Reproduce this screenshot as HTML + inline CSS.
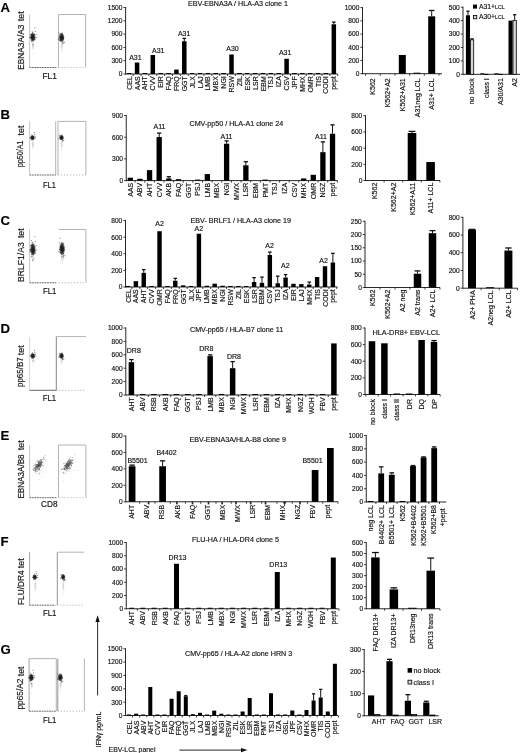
<!DOCTYPE html>
<html><head><meta charset="utf-8"><title>figure</title>
<style>html,body{margin:0;padding:0;background:#fff;}body{width:520px;height:753px;overflow:hidden;}svg{display:block;}</style>
</head><body>
<svg width="520" height="753" viewBox="0 0 520 753" font-family="'Liberation Sans', sans-serif">
<style>text{stroke:#222;stroke-width:0.16px;paint-order:stroke;}</style>
<defs><radialGradient id="g1"><stop offset="0" stop-color="#0a0a0a" stop-opacity="1"/><stop offset="0.5" stop-color="#1a1a1a" stop-opacity="0.85"/><stop offset="0.8" stop-color="#444" stop-opacity="0.4"/><stop offset="1" stop-color="#888" stop-opacity="0"/></radialGradient><radialGradient id="g2"><stop offset="0" stop-color="#333" stop-opacity="0.8"/><stop offset="0.6" stop-color="#777" stop-opacity="0.45"/><stop offset="1" stop-color="#aaa" stop-opacity="0"/></radialGradient></defs>
<rect width="520" height="753" fill="#fff"/>
<text x="0.5" y="11.6" font-size="13.2" text-anchor="start" font-weight="bold" fill="#000">A</text>
<text x="0.5" y="118.7" font-size="13.2" text-anchor="start" font-weight="bold" fill="#000">B</text>
<text x="0.5" y="224.8" font-size="13.2" text-anchor="start" font-weight="bold" fill="#000">C</text>
<text x="0.5" y="332.5" font-size="13.2" text-anchor="start" font-weight="bold" fill="#000">D</text>
<text x="0.5" y="439.5" font-size="13.2" text-anchor="start" font-weight="bold" fill="#000">E</text>
<text x="0.5" y="546" font-size="13.2" text-anchor="start" font-weight="bold" fill="#000">F</text>
<text x="0.5" y="653.5" font-size="13.2" text-anchor="start" font-weight="bold" fill="#000">G</text>
<line x1="29.6" y1="14.5" x2="29.6" y2="67.5" stroke="#bdbdbd" stroke-width="0.9"/>
<line x1="29.6" y1="67.5" x2="56.5" y2="67.5" stroke="#555" stroke-width="0.9" stroke-dasharray="1.8 0.7"/>
<line x1="58.5" y1="14.5" x2="58.5" y2="67.5" stroke="#ababab" stroke-width="0.9"/>
<line x1="58.5" y1="14.5" x2="85.6" y2="14.5" stroke="#ababab" stroke-width="0.9"/>
<line x1="85.6" y1="14.5" x2="85.6" y2="67.5" stroke="#ababab" stroke-width="0.9"/>
<line x1="58.5" y1="67.5" x2="85.6" y2="67.5" stroke="#b0b0b0" stroke-width="0.9" stroke-dasharray="1.2 1.8"/>
<ellipse cx="33.1" cy="45.65" rx="1.59" ry="5.4" fill="url(#g2)" opacity="0.3" transform="rotate(0 33.1 45.65)"/>
<g fill="#aaa" opacity="0.6"><circle cx="32.36" cy="41.97" r="0.4"/><circle cx="33.84" cy="37.84" r="0.4"/><circle cx="33.19" cy="37.98" r="0.4"/><circle cx="34.18" cy="46.83" r="0.4"/><circle cx="34.39" cy="44.28" r="0.4"/><circle cx="33.62" cy="45.07" r="0.4"/><circle cx="32.71" cy="46.62" r="0.4"/><circle cx="32.29" cy="44.82" r="0.4"/><circle cx="33.86" cy="46.31" r="0.4"/><circle cx="32.97" cy="53.98" r="0.4"/><circle cx="33.35" cy="43.99" r="0.4"/><circle cx="33.43" cy="44.22" r="0.4"/></g>
<ellipse cx="32.8" cy="37" rx="3.33" ry="5.06" fill="url(#g1)" opacity="0.95" transform="rotate(0 32.8 37)"/>
<g fill="#1a1a1a" opacity="0.7"><circle cx="32.04" cy="40.43" r="0.5"/><circle cx="36.27" cy="37.42" r="0.5"/><circle cx="34.79" cy="27.76" r="0.5"/><circle cx="32.73" cy="38.83" r="0.5"/><circle cx="33.55" cy="37.61" r="0.5"/><circle cx="34.65" cy="37.64" r="0.5"/><circle cx="31.31" cy="40.79" r="0.5"/><circle cx="32.88" cy="34.45" r="0.5"/><circle cx="33.36" cy="39.21" r="0.5"/><circle cx="34.53" cy="37.75" r="0.5"/><circle cx="33.06" cy="38.46" r="0.5"/><circle cx="33.8" cy="35.09" r="0.5"/><circle cx="36.02" cy="34.43" r="0.5"/><circle cx="32.32" cy="35.21" r="0.5"/><circle cx="33.35" cy="38.66" r="0.5"/><circle cx="32.68" cy="33.71" r="0.5"/><circle cx="32.73" cy="37.49" r="0.5"/><circle cx="32.08" cy="39.22" r="0.5"/><circle cx="33.64" cy="37.88" r="0.5"/><circle cx="32.44" cy="39.75" r="0.5"/><circle cx="31.23" cy="37.14" r="0.5"/><circle cx="33.4" cy="35.13" r="0.5"/><circle cx="33.66" cy="38.32" r="0.5"/><circle cx="33.14" cy="40.53" r="0.5"/><circle cx="31.74" cy="37.36" r="0.5"/><circle cx="34.48" cy="39.58" r="0.5"/><circle cx="31.59" cy="34.29" r="0.5"/><circle cx="32.1" cy="31.81" r="0.5"/><circle cx="33.57" cy="37.39" r="0.5"/><circle cx="30.94" cy="37.76" r="0.5"/><circle cx="31.36" cy="36.91" r="0.5"/><circle cx="32.48" cy="38.93" r="0.5"/><circle cx="35.24" cy="31.4" r="0.5"/><circle cx="31.43" cy="37.01" r="0.5"/><circle cx="33.94" cy="39.7" r="0.5"/><circle cx="33.21" cy="40.76" r="0.5"/><circle cx="32.56" cy="40.05" r="0.5"/><circle cx="33.5" cy="35.21" r="0.5"/><circle cx="31.76" cy="36.47" r="0.5"/><circle cx="30.36" cy="37.5" r="0.5"/><circle cx="29.65" cy="37.34" r="0.5"/><circle cx="31.68" cy="38.66" r="0.5"/><circle cx="31.92" cy="34.43" r="0.5"/><circle cx="32.32" cy="34.98" r="0.5"/><circle cx="34.07" cy="37.25" r="0.5"/><circle cx="33.65" cy="37.82" r="0.5"/><circle cx="31.28" cy="34.56" r="0.5"/><circle cx="34.35" cy="34.77" r="0.5"/><circle cx="31.75" cy="36.14" r="0.5"/><circle cx="31.81" cy="37.33" r="0.5"/><circle cx="34" cy="39.05" r="0.5"/><circle cx="32.09" cy="35.27" r="0.5"/><circle cx="32.7" cy="33.62" r="0.5"/><circle cx="31.93" cy="42.02" r="0.5"/><circle cx="33.75" cy="37.3" r="0.5"/><circle cx="32.01" cy="40.72" r="0.5"/><circle cx="32.74" cy="44.84" r="0.5"/><circle cx="33.85" cy="38.85" r="0.5"/><circle cx="30.82" cy="37.86" r="0.5"/><circle cx="32.78" cy="38.64" r="0.5"/><circle cx="32.72" cy="32.15" r="0.5"/><circle cx="30.46" cy="34.29" r="0.5"/><circle cx="31.75" cy="38.85" r="0.5"/><circle cx="32.17" cy="37.01" r="0.5"/><circle cx="33" cy="36.13" r="0.5"/><circle cx="35.17" cy="39.83" r="0.5"/><circle cx="32.15" cy="37.46" r="0.5"/><circle cx="33.4" cy="35.84" r="0.5"/><circle cx="32.6" cy="37.14" r="0.5"/><circle cx="33.67" cy="39.48" r="0.5"/></g>
<ellipse cx="61.8" cy="46.15" rx="1.59" ry="5.4" fill="url(#g2)" opacity="0.3" transform="rotate(0 61.8 46.15)"/>
<g fill="#aaa" opacity="0.6"><circle cx="62.4" cy="40.16" r="0.4"/><circle cx="61.38" cy="46.86" r="0.4"/><circle cx="63.18" cy="46.62" r="0.4"/><circle cx="60.67" cy="47.73" r="0.4"/><circle cx="61.04" cy="51.02" r="0.4"/><circle cx="61.8" cy="53.01" r="0.4"/><circle cx="61.9" cy="42.91" r="0.4"/><circle cx="60.82" cy="45.3" r="0.4"/><circle cx="62.36" cy="50.88" r="0.4"/><circle cx="62.21" cy="43.94" r="0.4"/><circle cx="62.4" cy="41.43" r="0.4"/><circle cx="62.4" cy="43.9" r="0.4"/></g>
<ellipse cx="61.5" cy="37.5" rx="3.33" ry="5.06" fill="url(#g1)" opacity="0.95" transform="rotate(0 61.5 37.5)"/>
<g fill="#1a1a1a" opacity="0.7"><circle cx="62.97" cy="39.15" r="0.5"/><circle cx="62.62" cy="37.33" r="0.5"/><circle cx="60.37" cy="36.77" r="0.5"/><circle cx="61.38" cy="33.31" r="0.5"/><circle cx="58.79" cy="33.12" r="0.5"/><circle cx="61.17" cy="35.08" r="0.5"/><circle cx="60.24" cy="40.18" r="0.5"/><circle cx="61.19" cy="35.67" r="0.5"/><circle cx="61.98" cy="34.7" r="0.5"/><circle cx="61.57" cy="36.31" r="0.5"/><circle cx="61.4" cy="37.98" r="0.5"/><circle cx="60.69" cy="38.55" r="0.5"/><circle cx="61.01" cy="39.1" r="0.5"/><circle cx="62.53" cy="34.35" r="0.5"/><circle cx="60.66" cy="40.12" r="0.5"/><circle cx="62.66" cy="43.55" r="0.5"/><circle cx="62.81" cy="35.49" r="0.5"/><circle cx="63.22" cy="43.11" r="0.5"/><circle cx="61.59" cy="38.41" r="0.5"/><circle cx="60.47" cy="38.82" r="0.5"/><circle cx="61.9" cy="36.24" r="0.5"/><circle cx="62.72" cy="38.61" r="0.5"/><circle cx="63.24" cy="38.55" r="0.5"/><circle cx="59.03" cy="37.92" r="0.5"/><circle cx="62.32" cy="36.7" r="0.5"/><circle cx="61.83" cy="34.34" r="0.5"/><circle cx="61.97" cy="37.16" r="0.5"/><circle cx="58.21" cy="39.59" r="0.5"/><circle cx="62.47" cy="38.31" r="0.5"/><circle cx="61.08" cy="39.93" r="0.5"/><circle cx="62.29" cy="37.42" r="0.5"/><circle cx="61.93" cy="35.55" r="0.5"/><circle cx="61.98" cy="36.4" r="0.5"/><circle cx="64.37" cy="42.26" r="0.5"/><circle cx="63.24" cy="37.83" r="0.5"/><circle cx="61.96" cy="40.98" r="0.5"/><circle cx="60.8" cy="41.02" r="0.5"/><circle cx="60.61" cy="33.37" r="0.5"/><circle cx="63.15" cy="41.09" r="0.5"/><circle cx="61.62" cy="41.19" r="0.5"/><circle cx="62.27" cy="33.08" r="0.5"/><circle cx="60.1" cy="36.88" r="0.5"/><circle cx="62.92" cy="42.18" r="0.5"/><circle cx="59.77" cy="34.84" r="0.5"/><circle cx="63.35" cy="36.6" r="0.5"/><circle cx="61.07" cy="40.5" r="0.5"/><circle cx="61.96" cy="39.47" r="0.5"/><circle cx="62.63" cy="34.3" r="0.5"/><circle cx="62.24" cy="40.41" r="0.5"/><circle cx="59.62" cy="40.25" r="0.5"/><circle cx="62.06" cy="35.26" r="0.5"/><circle cx="62.18" cy="38.39" r="0.5"/><circle cx="60.43" cy="36.47" r="0.5"/><circle cx="63.46" cy="38.5" r="0.5"/><circle cx="60.69" cy="35.88" r="0.5"/><circle cx="62.62" cy="37.99" r="0.5"/><circle cx="61.12" cy="36.99" r="0.5"/><circle cx="61.78" cy="38" r="0.5"/><circle cx="63.14" cy="38.24" r="0.5"/><circle cx="61.11" cy="33.67" r="0.5"/><circle cx="61.02" cy="39.85" r="0.5"/><circle cx="63.7" cy="37.87" r="0.5"/><circle cx="60.72" cy="37.18" r="0.5"/><circle cx="62.24" cy="38.97" r="0.5"/><circle cx="60.09" cy="40.34" r="0.5"/><circle cx="63.4" cy="39.6" r="0.5"/><circle cx="61.56" cy="39.09" r="0.5"/><circle cx="61.01" cy="36.4" r="0.5"/><circle cx="63.33" cy="37.16" r="0.5"/><circle cx="61.33" cy="34.04" r="0.5"/></g>
<text transform="translate(23.5,69.8) rotate(-90)" font-size="8.2" textLength="45.2" lengthAdjust="spacingAndGlyphs" fill="#111">EBNA3A/A3</text>
<text transform="translate(23.6,21.2) rotate(-90)" font-size="8.2" textLength="9.8" lengthAdjust="spacingAndGlyphs" fill="#111">tet</text>
<text x="42.4" y="78.6" font-size="8.2" textLength="14.4" lengthAdjust="spacingAndGlyphs" fill="#111">FL1</text>
<line x1="29.6" y1="121.4" x2="29.6" y2="175" stroke="#bdbdbd" stroke-width="0.9"/>
<line x1="29.6" y1="175" x2="56" y2="175" stroke="#555" stroke-width="0.9" stroke-dasharray="1.8 0.7"/>
<line x1="55.7" y1="121.4" x2="55.7" y2="175" stroke="#ababab" stroke-width="0.9"/>
<line x1="58" y1="121.4" x2="58" y2="175" stroke="#ababab" stroke-width="0.9"/>
<line x1="58" y1="121.4" x2="85.9" y2="121.4" stroke="#ababab" stroke-width="0.9"/>
<line x1="85.9" y1="121.4" x2="85.9" y2="175" stroke="#ababab" stroke-width="0.9"/>
<line x1="58" y1="175" x2="85.9" y2="175" stroke="#b0b0b0" stroke-width="0.9" stroke-dasharray="1.2 1.8"/>
<ellipse cx="32.8" cy="144.6" rx="1.26" ry="6" fill="url(#g2)" opacity="0.3" transform="rotate(0 32.8 144.6)"/>
<g fill="#aaa" opacity="0.6"><circle cx="32.06" cy="140.51" r="0.4"/><circle cx="33.54" cy="135.92" r="0.4"/><circle cx="32.89" cy="136.08" r="0.4"/><circle cx="33.88" cy="145.91" r="0.4"/><circle cx="34.09" cy="143.08" r="0.4"/><circle cx="33.32" cy="143.96" r="0.4"/><circle cx="32.41" cy="145.68" r="0.4"/><circle cx="31.99" cy="143.68" r="0.4"/><circle cx="33.56" cy="145.33" r="0.4"/><circle cx="32.67" cy="153.86" r="0.4"/><circle cx="33.05" cy="142.75" r="0.4"/><circle cx="33.13" cy="143.01" r="0.4"/></g>
<ellipse cx="32.5" cy="137.6" rx="2.64" ry="2.75" fill="url(#g1)" opacity="0.95" transform="rotate(0 32.5 137.6)"/>
<g fill="#1a1a1a" opacity="0.7"><circle cx="31.9" cy="139.47" r="0.5"/><circle cx="35.25" cy="137.83" r="0.5"/><circle cx="34.07" cy="132.58" r="0.5"/><circle cx="32.45" cy="138.6" r="0.5"/><circle cx="33.1" cy="137.93" r="0.5"/><circle cx="33.96" cy="137.95" r="0.5"/><circle cx="31.32" cy="139.66" r="0.5"/><circle cx="32.56" cy="136.21" r="0.5"/><circle cx="32.95" cy="138.8" r="0.5"/><circle cx="33.87" cy="138.01" r="0.5"/><circle cx="32.7" cy="138.39" r="0.5"/><circle cx="33.29" cy="136.56" r="0.5"/><circle cx="35.05" cy="136.2" r="0.5"/><circle cx="32.12" cy="136.63" r="0.5"/><circle cx="32.94" cy="138.5" r="0.5"/><circle cx="32.4" cy="135.81" r="0.5"/><circle cx="32.45" cy="137.87" r="0.5"/><circle cx="31.93" cy="138.81" r="0.5"/><circle cx="33.16" cy="138.08" r="0.5"/><circle cx="32.22" cy="139.09" r="0.5"/><circle cx="31.25" cy="137.67" r="0.5"/><circle cx="32.97" cy="136.58" r="0.5"/><circle cx="33.18" cy="138.32" r="0.5"/><circle cx="32.77" cy="139.52" r="0.5"/><circle cx="31.66" cy="137.8" r="0.5"/><circle cx="33.83" cy="139" r="0.5"/><circle cx="31.54" cy="136.13" r="0.5"/><circle cx="31.95" cy="134.78" r="0.5"/><circle cx="33.11" cy="137.81" r="0.5"/><circle cx="31.02" cy="138.01" r="0.5"/><circle cx="31.35" cy="137.55" r="0.5"/><circle cx="32.25" cy="138.65" r="0.5"/><circle cx="34.43" cy="134.56" r="0.5"/><circle cx="31.42" cy="137.6" r="0.5"/><circle cx="33.41" cy="139.07" r="0.5"/><circle cx="32.82" cy="139.64" r="0.5"/><circle cx="32.31" cy="139.26" r="0.5"/><circle cx="33.05" cy="136.63" r="0.5"/><circle cx="31.67" cy="137.31" r="0.5"/><circle cx="30.57" cy="137.87" r="0.5"/><circle cx="30.01" cy="137.78" r="0.5"/><circle cx="31.61" cy="138.5" r="0.5"/><circle cx="31.8" cy="136.2" r="0.5"/><circle cx="32.12" cy="136.5" r="0.5"/><circle cx="33.51" cy="137.73" r="0.5"/><circle cx="33.17" cy="138.05" r="0.5"/><circle cx="31.29" cy="136.27" r="0.5"/></g>
<ellipse cx="61.8" cy="144.6" rx="1.26" ry="6" fill="url(#g2)" opacity="0.3" transform="rotate(0 61.8 144.6)"/>
<g fill="#aaa" opacity="0.6"><circle cx="62.4" cy="137.94" r="0.4"/><circle cx="61.38" cy="145.39" r="0.4"/><circle cx="63.18" cy="145.12" r="0.4"/><circle cx="60.67" cy="146.36" r="0.4"/><circle cx="61.04" cy="150.01" r="0.4"/><circle cx="61.8" cy="152.22" r="0.4"/><circle cx="61.9" cy="141" r="0.4"/><circle cx="60.82" cy="143.66" r="0.4"/><circle cx="62.36" cy="149.86" r="0.4"/><circle cx="62.21" cy="142.14" r="0.4"/><circle cx="62.4" cy="139.35" r="0.4"/><circle cx="62.4" cy="142.1" r="0.4"/></g>
<ellipse cx="61.5" cy="137.6" rx="2.64" ry="2.75" fill="url(#g1)" opacity="0.95" transform="rotate(0 61.5 137.6)"/>
<g fill="#1a1a1a" opacity="0.7"><circle cx="62.66" cy="138.5" r="0.5"/><circle cx="62.39" cy="137.51" r="0.5"/><circle cx="60.6" cy="137.2" r="0.5"/><circle cx="61.4" cy="135.32" r="0.5"/><circle cx="59.35" cy="135.22" r="0.5"/><circle cx="61.24" cy="136.29" r="0.5"/><circle cx="60.5" cy="139.06" r="0.5"/><circle cx="61.26" cy="136.61" r="0.5"/><circle cx="61.88" cy="136.08" r="0.5"/><circle cx="61.56" cy="136.95" r="0.5"/><circle cx="61.42" cy="137.86" r="0.5"/><circle cx="60.86" cy="138.17" r="0.5"/><circle cx="61.11" cy="138.47" r="0.5"/><circle cx="62.32" cy="135.89" r="0.5"/><circle cx="60.84" cy="139.02" r="0.5"/><circle cx="62.42" cy="140.89" r="0.5"/><circle cx="62.54" cy="136.51" r="0.5"/><circle cx="62.86" cy="140.65" r="0.5"/><circle cx="61.57" cy="138.09" r="0.5"/><circle cx="60.68" cy="138.32" r="0.5"/><circle cx="61.82" cy="136.92" r="0.5"/><circle cx="62.47" cy="138.2" r="0.5"/><circle cx="62.88" cy="138.17" r="0.5"/><circle cx="59.54" cy="137.83" r="0.5"/><circle cx="62.15" cy="137.17" r="0.5"/><circle cx="61.76" cy="135.88" r="0.5"/><circle cx="61.87" cy="137.41" r="0.5"/><circle cx="58.89" cy="138.74" r="0.5"/><circle cx="62.27" cy="138.04" r="0.5"/><circle cx="61.16" cy="138.92" r="0.5"/><circle cx="62.13" cy="137.55" r="0.5"/><circle cx="61.84" cy="136.54" r="0.5"/><circle cx="61.88" cy="137" r="0.5"/><circle cx="63.78" cy="140.19" r="0.5"/><circle cx="62.88" cy="137.78" r="0.5"/><circle cx="61.86" cy="139.49" r="0.5"/><circle cx="60.94" cy="139.51" r="0.5"/><circle cx="60.8" cy="135.36" r="0.5"/><circle cx="62.81" cy="139.55" r="0.5"/><circle cx="61.59" cy="139.61" r="0.5"/><circle cx="62.11" cy="135.2" r="0.5"/><circle cx="60.39" cy="137.26" r="0.5"/><circle cx="62.63" cy="140.14" r="0.5"/><circle cx="60.13" cy="136.15" r="0.5"/><circle cx="62.97" cy="137.11" r="0.5"/><circle cx="61.16" cy="139.23" r="0.5"/><circle cx="61.86" cy="138.67" r="0.5"/></g>
<text transform="translate(23,167.2) rotate(-90)" font-size="8.2" textLength="26.6" lengthAdjust="spacingAndGlyphs" fill="#111">pp50/A1</text>
<text transform="translate(23.6,135.4) rotate(-90)" font-size="8.2" textLength="9.8" lengthAdjust="spacingAndGlyphs" fill="#111">tet</text>
<text x="43" y="187.5" font-size="8.2" textLength="12.8" lengthAdjust="spacingAndGlyphs" fill="#111">FL1</text>
<line x1="29.6" y1="229.5" x2="29.6" y2="282.8" stroke="#bdbdbd" stroke-width="0.9"/>
<line x1="29.6" y1="282.8" x2="56.8" y2="282.8" stroke="#555" stroke-width="0.9" stroke-dasharray="1.8 0.7"/>
<line x1="58.8" y1="229.5" x2="85.9" y2="229.5" stroke="#ababab" stroke-width="0.9"/>
<line x1="85.9" y1="229.5" x2="85.9" y2="282.8" stroke="#ababab" stroke-width="0.9"/>
<line x1="58.8" y1="282.8" x2="85.9" y2="282.8" stroke="#b0b0b0" stroke-width="0.9" stroke-dasharray="1.2 1.8"/>
<ellipse cx="33.2" cy="258.95" rx="1.59" ry="4.2" fill="url(#g2)" opacity="0.3" transform="rotate(0 33.2 258.95)"/>
<g fill="#aaa" opacity="0.6"><circle cx="32.46" cy="256.09" r="0.4"/><circle cx="33.94" cy="252.88" r="0.4"/><circle cx="33.29" cy="252.98" r="0.4"/><circle cx="34.28" cy="259.87" r="0.4"/><circle cx="34.49" cy="257.89" r="0.4"/><circle cx="33.72" cy="258.5" r="0.4"/><circle cx="32.81" cy="259.71" r="0.4"/><circle cx="32.39" cy="258.31" r="0.4"/><circle cx="33.96" cy="259.46" r="0.4"/><circle cx="33.07" cy="265.43" r="0.4"/><circle cx="33.45" cy="257.66" r="0.4"/><circle cx="33.53" cy="257.84" r="0.4"/></g>
<ellipse cx="32.9" cy="249.4" rx="3.33" ry="7.04" fill="url(#g1)" opacity="0.95" transform="rotate(0 32.9 249.4)"/>
<g fill="#1a1a1a" opacity="0.7"><circle cx="32.14" cy="254.18" r="0.5"/><circle cx="36.37" cy="249.98" r="0.5"/><circle cx="34.89" cy="236.55" r="0.5"/><circle cx="32.83" cy="251.95" r="0.5"/><circle cx="33.65" cy="250.25" r="0.5"/><circle cx="34.75" cy="250.29" r="0.5"/><circle cx="31.41" cy="254.68" r="0.5"/><circle cx="32.98" cy="245.85" r="0.5"/><circle cx="33.46" cy="252.48" r="0.5"/><circle cx="34.63" cy="250.45" r="0.5"/><circle cx="33.16" cy="251.43" r="0.5"/><circle cx="33.9" cy="246.74" r="0.5"/><circle cx="36.12" cy="245.82" r="0.5"/><circle cx="32.42" cy="246.9" r="0.5"/><circle cx="33.45" cy="251.71" r="0.5"/><circle cx="32.78" cy="244.82" r="0.5"/><circle cx="32.83" cy="250.09" r="0.5"/><circle cx="32.18" cy="252.49" r="0.5"/><circle cx="33.74" cy="250.63" r="0.5"/><circle cx="32.54" cy="253.22" r="0.5"/><circle cx="31.33" cy="249.59" r="0.5"/><circle cx="33.5" cy="246.8" r="0.5"/><circle cx="33.76" cy="251.23" r="0.5"/><circle cx="33.24" cy="254.31" r="0.5"/><circle cx="31.84" cy="249.9" r="0.5"/><circle cx="34.58" cy="252.99" r="0.5"/><circle cx="31.69" cy="245.63" r="0.5"/><circle cx="32.2" cy="242.18" r="0.5"/><circle cx="33.67" cy="249.94" r="0.5"/><circle cx="31.04" cy="250.46" r="0.5"/><circle cx="31.46" cy="249.28" r="0.5"/><circle cx="32.58" cy="252.09" r="0.5"/><circle cx="35.34" cy="241.61" r="0.5"/><circle cx="31.53" cy="249.41" r="0.5"/><circle cx="34.04" cy="253.16" r="0.5"/><circle cx="33.31" cy="254.63" r="0.5"/><circle cx="32.66" cy="253.64" r="0.5"/><circle cx="33.6" cy="246.91" r="0.5"/><circle cx="31.86" cy="248.67" r="0.5"/><circle cx="30.46" cy="250.1" r="0.5"/><circle cx="29.75" cy="249.87" r="0.5"/><circle cx="31.78" cy="251.71" r="0.5"/><circle cx="32.02" cy="245.82" r="0.5"/><circle cx="32.42" cy="246.59" r="0.5"/><circle cx="34.17" cy="249.74" r="0.5"/><circle cx="33.75" cy="250.54" r="0.5"/><circle cx="31.38" cy="246.01" r="0.5"/><circle cx="34.45" cy="246.3" r="0.5"/><circle cx="31.85" cy="248.2" r="0.5"/><circle cx="31.91" cy="249.86" r="0.5"/><circle cx="34.1" cy="252.25" r="0.5"/><circle cx="32.19" cy="246.99" r="0.5"/><circle cx="32.8" cy="244.69" r="0.5"/><circle cx="32.03" cy="256.38" r="0.5"/><circle cx="33.85" cy="249.82" r="0.5"/><circle cx="32.11" cy="254.58" r="0.5"/><circle cx="32.84" cy="260.31" r="0.5"/><circle cx="33.95" cy="251.98" r="0.5"/><circle cx="30.92" cy="250.6" r="0.5"/><circle cx="32.88" cy="251.68" r="0.5"/><circle cx="32.82" cy="242.65" r="0.5"/><circle cx="30.56" cy="245.62" r="0.5"/><circle cx="31.85" cy="251.97" r="0.5"/><circle cx="32.27" cy="249.42" r="0.5"/><circle cx="33.1" cy="248.19" r="0.5"/><circle cx="35.27" cy="253.34" r="0.5"/><circle cx="32.25" cy="250.04" r="0.5"/><circle cx="33.5" cy="247.78" r="0.5"/><circle cx="32.7" cy="249.59" r="0.5"/><circle cx="33.77" cy="252.85" r="0.5"/><circle cx="32.71" cy="247.47" r="0.5"/><circle cx="33.03" cy="243.89" r="0.5"/><circle cx="31.43" cy="240.6" r="0.5"/><circle cx="32.78" cy="249.45" r="0.5"/><circle cx="35.21" cy="252.09" r="0.5"/><circle cx="33.66" cy="251.33" r="0.5"/><circle cx="31.76" cy="244.25" r="0.5"/><circle cx="32.94" cy="244.49" r="0.5"/><circle cx="31.68" cy="256.72" r="0.5"/><circle cx="33.83" cy="249.74" r="0.5"/><circle cx="33.68" cy="249.2" r="0.5"/><circle cx="33.8" cy="245.03" r="0.5"/><circle cx="31.74" cy="245.39" r="0.5"/><circle cx="30.68" cy="251.69" r="0.5"/><circle cx="33.83" cy="250.55" r="0.5"/></g>
<ellipse cx="62.3" cy="258.35" rx="1.59" ry="4.2" fill="url(#g2)" opacity="0.3" transform="rotate(0 62.3 258.35)"/>
<g fill="#aaa" opacity="0.6"><circle cx="62.9" cy="253.69" r="0.4"/><circle cx="61.88" cy="258.9" r="0.4"/><circle cx="63.68" cy="258.71" r="0.4"/><circle cx="61.17" cy="259.58" r="0.4"/><circle cx="61.54" cy="262.13" r="0.4"/><circle cx="62.3" cy="263.69" r="0.4"/><circle cx="62.4" cy="255.83" r="0.4"/><circle cx="61.32" cy="257.69" r="0.4"/><circle cx="62.86" cy="262.03" r="0.4"/><circle cx="62.71" cy="256.63" r="0.4"/><circle cx="62.9" cy="254.68" r="0.4"/><circle cx="62.9" cy="256.6" r="0.4"/></g>
<ellipse cx="62" cy="248.8" rx="3.33" ry="7.04" fill="url(#g1)" opacity="0.95" transform="rotate(0 62 248.8)"/>
<g fill="#1a1a1a" opacity="0.7"><circle cx="63.47" cy="251.1" r="0.5"/><circle cx="63.12" cy="248.57" r="0.5"/><circle cx="60.87" cy="247.79" r="0.5"/><circle cx="61.88" cy="242.97" r="0.5"/><circle cx="59.29" cy="242.7" r="0.5"/><circle cx="61.67" cy="245.43" r="0.5"/><circle cx="60.74" cy="252.53" r="0.5"/><circle cx="61.69" cy="246.26" r="0.5"/><circle cx="62.48" cy="244.9" r="0.5"/><circle cx="62.07" cy="247.14" r="0.5"/><circle cx="61.9" cy="249.46" r="0.5"/><circle cx="61.19" cy="250.27" r="0.5"/><circle cx="61.51" cy="251.02" r="0.5"/><circle cx="63.03" cy="244.42" r="0.5"/><circle cx="61.16" cy="252.45" r="0.5"/><circle cx="63.16" cy="257.21" r="0.5"/><circle cx="63.31" cy="246" r="0.5"/><circle cx="63.72" cy="256.6" r="0.5"/><circle cx="62.09" cy="250.06" r="0.5"/><circle cx="60.97" cy="250.63" r="0.5"/><circle cx="62.4" cy="247.05" r="0.5"/><circle cx="63.22" cy="250.35" r="0.5"/><circle cx="63.74" cy="250.26" r="0.5"/><circle cx="59.53" cy="249.39" r="0.5"/><circle cx="62.82" cy="247.69" r="0.5"/><circle cx="62.33" cy="244.4" r="0.5"/><circle cx="62.47" cy="248.32" r="0.5"/><circle cx="58.71" cy="251.71" r="0.5"/><circle cx="62.97" cy="249.92" r="0.5"/><circle cx="61.58" cy="252.19" r="0.5"/><circle cx="62.79" cy="248.68" r="0.5"/><circle cx="62.43" cy="246.09" r="0.5"/><circle cx="62.48" cy="247.27" r="0.5"/><circle cx="64.87" cy="255.43" r="0.5"/><circle cx="63.74" cy="249.26" r="0.5"/><circle cx="62.46" cy="253.64" r="0.5"/><circle cx="61.3" cy="253.69" r="0.5"/><circle cx="61.11" cy="243.05" r="0.5"/><circle cx="63.65" cy="253.8" r="0.5"/><circle cx="62.12" cy="253.94" r="0.5"/><circle cx="62.77" cy="242.66" r="0.5"/><circle cx="60.6" cy="247.94" r="0.5"/><circle cx="63.42" cy="255.31" r="0.5"/><circle cx="60.27" cy="245.1" r="0.5"/><circle cx="63.85" cy="247.55" r="0.5"/><circle cx="61.57" cy="252.98" r="0.5"/><circle cx="62.46" cy="251.54" r="0.5"/><circle cx="63.13" cy="244.34" r="0.5"/><circle cx="62.74" cy="252.84" r="0.5"/><circle cx="60.12" cy="252.63" r="0.5"/><circle cx="62.56" cy="245.68" r="0.5"/><circle cx="62.68" cy="250.04" r="0.5"/><circle cx="60.93" cy="247.36" r="0.5"/><circle cx="63.96" cy="250.19" r="0.5"/><circle cx="61.19" cy="246.55" r="0.5"/><circle cx="63.12" cy="249.48" r="0.5"/><circle cx="61.62" cy="248.09" r="0.5"/><circle cx="62.28" cy="249.49" r="0.5"/><circle cx="63.64" cy="249.84" r="0.5"/><circle cx="61.61" cy="243.47" r="0.5"/><circle cx="61.52" cy="252.07" r="0.5"/><circle cx="64.2" cy="249.31" r="0.5"/><circle cx="61.22" cy="248.36" r="0.5"/><circle cx="62.74" cy="250.84" r="0.5"/><circle cx="60.59" cy="252.75" r="0.5"/><circle cx="63.9" cy="251.72" r="0.5"/><circle cx="62.06" cy="251.01" r="0.5"/><circle cx="61.51" cy="247.27" r="0.5"/><circle cx="63.83" cy="248.33" r="0.5"/><circle cx="61.83" cy="243.99" r="0.5"/><circle cx="63.72" cy="243.59" r="0.5"/><circle cx="61.36" cy="248.14" r="0.5"/><circle cx="60.02" cy="238.13" r="0.5"/><circle cx="62.07" cy="254.75" r="0.5"/><circle cx="63.74" cy="253.42" r="0.5"/><circle cx="60.48" cy="247.65" r="0.5"/><circle cx="60.72" cy="246.41" r="0.5"/><circle cx="61.12" cy="244.27" r="0.5"/><circle cx="61.35" cy="256.27" r="0.5"/><circle cx="63.42" cy="253.31" r="0.5"/><circle cx="61.5" cy="249.61" r="0.5"/><circle cx="61.76" cy="253.2" r="0.5"/><circle cx="63.13" cy="252.85" r="0.5"/><circle cx="63.85" cy="246.97" r="0.5"/><circle cx="60.45" cy="247.12" r="0.5"/></g>
<text transform="translate(23.5,282) rotate(-90)" font-size="8.2" textLength="39.7" lengthAdjust="spacingAndGlyphs" fill="#111">BRLF1/A3</text>
<text transform="translate(23.6,238.1) rotate(-90)" font-size="8.2" textLength="9.7" lengthAdjust="spacingAndGlyphs" fill="#111">tet</text>
<text x="43" y="294.3" font-size="8.2" textLength="13.2" lengthAdjust="spacingAndGlyphs" fill="#111">FL1</text>
<line x1="29.6" y1="337" x2="29.6" y2="390.3" stroke="#d0d0d0" stroke-width="0.9"/>
<line x1="29.6" y1="390.3" x2="56.3" y2="390.3" stroke="#555" stroke-width="0.9"/>
<line x1="56.3" y1="336.6" x2="56.3" y2="390.3" stroke="#777" stroke-width="0.9"/>
<line x1="56.3" y1="336.6" x2="85.9" y2="336.6" stroke="#ababab" stroke-width="0.9"/>
<line x1="56.3" y1="390.3" x2="85.9" y2="390.3" stroke="#b0b0b0" stroke-width="0.9" stroke-dasharray="1.2 1.8"/>
<ellipse cx="33.1" cy="360.85" rx="1.32" ry="3" fill="url(#g2)" opacity="0.3" transform="rotate(0 33.1 360.85)"/>
<g fill="#aaa" opacity="0.6"><circle cx="32.36" cy="358.8" r="0.4"/><circle cx="33.84" cy="356.51" r="0.4"/><circle cx="33.19" cy="356.59" r="0.4"/><circle cx="34.18" cy="361.51" r="0.4"/><circle cx="34.39" cy="360.09" r="0.4"/><circle cx="33.62" cy="360.53" r="0.4"/><circle cx="32.71" cy="361.39" r="0.4"/><circle cx="32.29" cy="360.39" r="0.4"/><circle cx="33.86" cy="361.22" r="0.4"/><circle cx="32.97" cy="365.48" r="0.4"/><circle cx="33.35" cy="359.93" r="0.4"/><circle cx="33.43" cy="360.05" r="0.4"/></g>
<ellipse cx="32.8" cy="355.8" rx="2.76" ry="3.08" fill="url(#g1)" opacity="0.95" transform="rotate(0 32.8 355.8)"/>
<g fill="#1a1a1a" opacity="0.7"><circle cx="32.17" cy="357.89" r="0.5"/><circle cx="35.67" cy="356.06" r="0.5"/><circle cx="34.44" cy="350.18" r="0.5"/><circle cx="32.74" cy="356.92" r="0.5"/><circle cx="33.42" cy="356.17" r="0.5"/><circle cx="34.33" cy="356.19" r="0.5"/><circle cx="31.57" cy="358.11" r="0.5"/><circle cx="32.86" cy="354.25" r="0.5"/><circle cx="33.27" cy="357.15" r="0.5"/><circle cx="34.23" cy="356.26" r="0.5"/><circle cx="33.01" cy="356.69" r="0.5"/><circle cx="33.63" cy="354.64" r="0.5"/><circle cx="35.46" cy="354.23" r="0.5"/><circle cx="32.41" cy="354.71" r="0.5"/><circle cx="33.25" cy="356.81" r="0.5"/><circle cx="32.7" cy="353.8" r="0.5"/><circle cx="32.74" cy="356.1" r="0.5"/><circle cx="32.2" cy="357.15" r="0.5"/><circle cx="33.49" cy="356.34" r="0.5"/><circle cx="32.51" cy="357.47" r="0.5"/><circle cx="31.5" cy="355.88" r="0.5"/><circle cx="33.29" cy="354.66" r="0.5"/><circle cx="33.51" cy="356.6" r="0.5"/><circle cx="33.08" cy="357.95" r="0.5"/><circle cx="31.92" cy="356.02" r="0.5"/><circle cx="34.19" cy="357.37" r="0.5"/><circle cx="31.8" cy="354.15" r="0.5"/><circle cx="32.22" cy="352.64" r="0.5"/><circle cx="33.44" cy="356.04" r="0.5"/><circle cx="31.26" cy="356.26" r="0.5"/><circle cx="31.6" cy="355.75" r="0.5"/><circle cx="32.53" cy="356.98" r="0.5"/><circle cx="34.82" cy="352.39" r="0.5"/><circle cx="31.67" cy="355.8" r="0.5"/><circle cx="33.75" cy="357.45" r="0.5"/><circle cx="33.14" cy="358.09" r="0.5"/><circle cx="32.6" cy="357.66" r="0.5"/><circle cx="33.38" cy="354.71" r="0.5"/><circle cx="31.94" cy="355.48" r="0.5"/><circle cx="30.78" cy="356.11" r="0.5"/><circle cx="30.2" cy="356.01" r="0.5"/><circle cx="31.87" cy="356.81" r="0.5"/><circle cx="32.07" cy="354.23" r="0.5"/><circle cx="32.41" cy="354.57" r="0.5"/><circle cx="33.85" cy="355.95" r="0.5"/><circle cx="33.5" cy="356.3" r="0.5"/><circle cx="31.54" cy="354.32" r="0.5"/><circle cx="34.08" cy="354.44" r="0.5"/><circle cx="31.93" cy="355.27" r="0.5"/><circle cx="31.98" cy="356" r="0.5"/></g>
<ellipse cx="61.8" cy="360.85" rx="1.32" ry="3" fill="url(#g2)" opacity="0.3" transform="rotate(0 61.8 360.85)"/>
<g fill="#aaa" opacity="0.6"><circle cx="62.4" cy="357.52" r="0.4"/><circle cx="61.38" cy="361.25" r="0.4"/><circle cx="63.18" cy="361.11" r="0.4"/><circle cx="60.67" cy="361.73" r="0.4"/><circle cx="61.04" cy="363.55" r="0.4"/><circle cx="61.8" cy="364.66" r="0.4"/><circle cx="61.9" cy="359.05" r="0.4"/><circle cx="60.82" cy="360.38" r="0.4"/><circle cx="62.36" cy="363.48" r="0.4"/><circle cx="62.21" cy="359.62" r="0.4"/><circle cx="62.4" cy="358.23" r="0.4"/><circle cx="62.4" cy="359.6" r="0.4"/></g>
<ellipse cx="61.5" cy="355.8" rx="2.76" ry="3.08" fill="url(#g1)" opacity="0.95" transform="rotate(0 61.5 355.8)"/>
<g fill="#1a1a1a" opacity="0.7"><circle cx="62.71" cy="356.8" r="0.5"/><circle cx="62.42" cy="355.7" r="0.5"/><circle cx="60.56" cy="355.36" r="0.5"/><circle cx="61.4" cy="353.25" r="0.5"/><circle cx="59.26" cy="353.13" r="0.5"/><circle cx="61.23" cy="354.33" r="0.5"/><circle cx="60.46" cy="357.43" r="0.5"/><circle cx="61.25" cy="354.69" r="0.5"/><circle cx="61.9" cy="354.1" r="0.5"/><circle cx="61.56" cy="355.07" r="0.5"/><circle cx="61.42" cy="356.09" r="0.5"/><circle cx="60.83" cy="356.44" r="0.5"/><circle cx="61.09" cy="356.77" r="0.5"/><circle cx="62.35" cy="353.88" r="0.5"/><circle cx="60.81" cy="357.4" r="0.5"/><circle cx="62.46" cy="359.48" r="0.5"/><circle cx="62.59" cy="354.58" r="0.5"/><circle cx="62.92" cy="359.21" r="0.5"/><circle cx="61.57" cy="356.35" r="0.5"/><circle cx="60.64" cy="356.6" r="0.5"/><circle cx="61.83" cy="355.04" r="0.5"/><circle cx="62.51" cy="356.48" r="0.5"/><circle cx="62.94" cy="356.44" r="0.5"/><circle cx="59.45" cy="356.06" r="0.5"/><circle cx="62.18" cy="355.32" r="0.5"/><circle cx="61.77" cy="353.88" r="0.5"/><circle cx="61.89" cy="355.59" r="0.5"/><circle cx="58.78" cy="357.07" r="0.5"/><circle cx="62.31" cy="356.29" r="0.5"/><circle cx="61.15" cy="357.28" r="0.5"/><circle cx="62.16" cy="355.75" r="0.5"/><circle cx="61.85" cy="354.62" r="0.5"/><circle cx="61.9" cy="355.13" r="0.5"/><circle cx="63.88" cy="358.7" r="0.5"/><circle cx="62.94" cy="356" r="0.5"/><circle cx="61.88" cy="357.92" r="0.5"/><circle cx="60.92" cy="357.94" r="0.5"/><circle cx="60.77" cy="353.29" r="0.5"/><circle cx="62.87" cy="357.99" r="0.5"/><circle cx="61.6" cy="358.05" r="0.5"/><circle cx="62.13" cy="353.11" r="0.5"/><circle cx="60.34" cy="355.42" r="0.5"/><circle cx="62.67" cy="358.65" r="0.5"/><circle cx="60.07" cy="354.18" r="0.5"/><circle cx="63.03" cy="355.25" r="0.5"/><circle cx="61.14" cy="357.63" r="0.5"/><circle cx="61.88" cy="357" r="0.5"/><circle cx="62.44" cy="353.85" r="0.5"/><circle cx="62.11" cy="357.57" r="0.5"/><circle cx="59.94" cy="357.48" r="0.5"/></g>
<text transform="translate(23.2,387) rotate(-90)" font-size="8.2" textLength="29.7" lengthAdjust="spacingAndGlyphs" fill="#111">pp65/B7</text>
<text transform="translate(23.8,355.2) rotate(-90)" font-size="8.2" textLength="10" lengthAdjust="spacingAndGlyphs" fill="#111">tet</text>
<text x="42.7" y="401.3" font-size="8.2" textLength="13.3" lengthAdjust="spacingAndGlyphs" fill="#111">FL1</text>
<line x1="29.6" y1="445" x2="29.6" y2="497.7" stroke="#bdbdbd" stroke-width="0.9"/>
<line x1="29.6" y1="497.7" x2="56.5" y2="497.7" stroke="#555" stroke-width="0.9" stroke-dasharray="1.8 0.7"/>
<line x1="58.5" y1="445" x2="58.5" y2="497.7" stroke="#ababab" stroke-width="0.9"/>
<line x1="58.5" y1="445" x2="85.9" y2="445" stroke="#ababab" stroke-width="0.9"/>
<line x1="85.9" y1="445" x2="85.9" y2="497.7" stroke="#ababab" stroke-width="0.9"/>
<line x1="58.5" y1="497.7" x2="85.9" y2="497.7" stroke="#b0b0b0" stroke-width="0.9" stroke-dasharray="1.2 1.8"/>
<ellipse cx="38.5" cy="465.6" rx="6" ry="3" fill="url(#g2)" opacity="0.75" transform="rotate(-55 38.5 465.6)"/>
<g fill="#222" opacity="0.68"><circle cx="36.47" cy="469.56" r="0.45"/><circle cx="39.88" cy="462.19" r="0.45"/><circle cx="35.67" cy="469.46" r="0.45"/><circle cx="40.93" cy="465.2" r="0.45"/><circle cx="34.29" cy="468" r="0.45"/><circle cx="40.58" cy="463.95" r="0.45"/><circle cx="42.95" cy="461.98" r="0.45"/><circle cx="37.93" cy="465.65" r="0.45"/><circle cx="43.43" cy="457.75" r="0.45"/><circle cx="35.39" cy="466.87" r="0.45"/><circle cx="38.89" cy="465.45" r="0.45"/><circle cx="37.71" cy="466.56" r="0.45"/><circle cx="39.97" cy="465.43" r="0.45"/><circle cx="41.04" cy="462.56" r="0.45"/><circle cx="35.72" cy="471.52" r="0.45"/><circle cx="35.34" cy="469.63" r="0.45"/><circle cx="35.46" cy="469.95" r="0.45"/><circle cx="37.17" cy="468.09" r="0.45"/><circle cx="45.25" cy="455.82" r="0.45"/><circle cx="38.5" cy="461.9" r="0.45"/><circle cx="38.77" cy="467.06" r="0.45"/><circle cx="38.79" cy="466.21" r="0.45"/><circle cx="37.39" cy="464.37" r="0.45"/><circle cx="38.6" cy="463.19" r="0.45"/><circle cx="41.7" cy="459.62" r="0.45"/><circle cx="39.92" cy="463.58" r="0.45"/><circle cx="39.68" cy="462.24" r="0.45"/><circle cx="40.4" cy="462.54" r="0.45"/><circle cx="41.93" cy="462.45" r="0.45"/><circle cx="37.77" cy="464.47" r="0.45"/><circle cx="40.7" cy="463.77" r="0.45"/><circle cx="41.4" cy="460.41" r="0.45"/><circle cx="40.31" cy="464.43" r="0.45"/><circle cx="39.36" cy="464.96" r="0.45"/><circle cx="38.09" cy="464.51" r="0.45"/><circle cx="35.89" cy="468.23" r="0.45"/><circle cx="41.7" cy="465.24" r="0.45"/><circle cx="41.9" cy="463.69" r="0.45"/><circle cx="41.02" cy="463.95" r="0.45"/><circle cx="39.89" cy="465.77" r="0.45"/><circle cx="41.73" cy="460.07" r="0.45"/><circle cx="39.64" cy="469.44" r="0.45"/><circle cx="40.28" cy="465.77" r="0.45"/><circle cx="38.82" cy="461.98" r="0.45"/><circle cx="45.85" cy="460.05" r="0.45"/><circle cx="39.85" cy="465.77" r="0.45"/><circle cx="37.6" cy="464.41" r="0.45"/><circle cx="38.76" cy="466.27" r="0.45"/><circle cx="41.73" cy="462.96" r="0.45"/><circle cx="40.4" cy="466.67" r="0.45"/><circle cx="37.97" cy="468.57" r="0.45"/><circle cx="40.41" cy="462.05" r="0.45"/><circle cx="33.61" cy="470.05" r="0.45"/><circle cx="39.68" cy="465.39" r="0.45"/><circle cx="40.38" cy="460.11" r="0.45"/><circle cx="39.35" cy="466.19" r="0.45"/><circle cx="35.07" cy="463.89" r="0.45"/><circle cx="43.2" cy="465.34" r="0.45"/><circle cx="39.37" cy="461.8" r="0.45"/><circle cx="37.94" cy="467.02" r="0.45"/><circle cx="44.45" cy="458.83" r="0.45"/><circle cx="40.78" cy="466.69" r="0.45"/><circle cx="40.77" cy="467.55" r="0.45"/><circle cx="36.46" cy="467.18" r="0.45"/><circle cx="41.86" cy="464.78" r="0.45"/><circle cx="40.25" cy="463.95" r="0.45"/><circle cx="33.8" cy="470.32" r="0.45"/><circle cx="36.54" cy="466.91" r="0.45"/><circle cx="39.27" cy="463.56" r="0.45"/><circle cx="40.23" cy="463.35" r="0.45"/><circle cx="37.97" cy="466.69" r="0.45"/><circle cx="40.51" cy="465.12" r="0.45"/><circle cx="37.21" cy="466.79" r="0.45"/><circle cx="37.79" cy="471.09" r="0.45"/><circle cx="41.26" cy="461.15" r="0.45"/><circle cx="35.89" cy="465.88" r="0.45"/><circle cx="39.12" cy="465.29" r="0.45"/><circle cx="43.33" cy="459.39" r="0.45"/><circle cx="33.69" cy="465.65" r="0.45"/><circle cx="41.66" cy="461.62" r="0.45"/><circle cx="35.41" cy="470.51" r="0.45"/><circle cx="39.74" cy="473.54" r="0.45"/><circle cx="41.56" cy="462.83" r="0.45"/><circle cx="35.33" cy="464.15" r="0.45"/><circle cx="36.2" cy="464.55" r="0.45"/><circle cx="36.93" cy="461.88" r="0.45"/><circle cx="38.22" cy="469.4" r="0.45"/><circle cx="40.35" cy="459.67" r="0.45"/><circle cx="36.49" cy="470.93" r="0.45"/><circle cx="38.97" cy="462.18" r="0.45"/><circle cx="36.16" cy="467.01" r="0.45"/><circle cx="35.15" cy="468.48" r="0.45"/><circle cx="41.99" cy="462.54" r="0.45"/><circle cx="42.63" cy="459.46" r="0.45"/><circle cx="36.93" cy="465.1" r="0.45"/><circle cx="36.52" cy="464.76" r="0.45"/><circle cx="35.74" cy="471.48" r="0.45"/><circle cx="42.57" cy="462.12" r="0.45"/><circle cx="41.58" cy="461.9" r="0.45"/><circle cx="37.13" cy="467.8" r="0.45"/><circle cx="36.27" cy="465.68" r="0.45"/><circle cx="33.06" cy="469.23" r="0.45"/><circle cx="38.69" cy="465.75" r="0.45"/><circle cx="39.39" cy="468.31" r="0.45"/><circle cx="39.63" cy="465.61" r="0.45"/><circle cx="39.94" cy="461.25" r="0.45"/><circle cx="35.42" cy="472.1" r="0.45"/><circle cx="38.8" cy="468.83" r="0.45"/><circle cx="40.52" cy="465.53" r="0.45"/><circle cx="37.35" cy="461.44" r="0.45"/><circle cx="39.1" cy="462.86" r="0.45"/><circle cx="36.37" cy="467.43" r="0.45"/><circle cx="41.25" cy="464.15" r="0.45"/><circle cx="38.41" cy="461.09" r="0.45"/><circle cx="34.17" cy="465.16" r="0.45"/><circle cx="39.08" cy="466.45" r="0.45"/><circle cx="37.24" cy="468.08" r="0.45"/><circle cx="40.3" cy="465.84" r="0.45"/><circle cx="35.72" cy="467.26" r="0.45"/><circle cx="39.22" cy="469.46" r="0.45"/><circle cx="40.59" cy="462.27" r="0.45"/><circle cx="39.12" cy="465.04" r="0.45"/><circle cx="38.65" cy="464.81" r="0.45"/><circle cx="36.16" cy="465.43" r="0.45"/><circle cx="39.34" cy="469.01" r="0.45"/><circle cx="39.69" cy="464.08" r="0.45"/><circle cx="38.14" cy="466.29" r="0.45"/><circle cx="38.38" cy="463.97" r="0.45"/><circle cx="39.22" cy="465.24" r="0.45"/><circle cx="35.92" cy="467.08" r="0.45"/><circle cx="35.04" cy="467.57" r="0.45"/><circle cx="37.24" cy="460.81" r="0.45"/><circle cx="37.15" cy="465.83" r="0.45"/><circle cx="37.35" cy="467.52" r="0.45"/><circle cx="40.93" cy="462.34" r="0.45"/><circle cx="37.41" cy="465.45" r="0.45"/><circle cx="39.43" cy="466.82" r="0.45"/><circle cx="36.18" cy="465.71" r="0.45"/><circle cx="34.44" cy="468.31" r="0.45"/><circle cx="37.07" cy="470.71" r="0.45"/><circle cx="38.92" cy="464.33" r="0.45"/><circle cx="40.65" cy="460.69" r="0.45"/><circle cx="41.1" cy="464.11" r="0.45"/><circle cx="33.27" cy="468.73" r="0.45"/><circle cx="37.77" cy="469.17" r="0.45"/><circle cx="39.57" cy="460.65" r="0.45"/><circle cx="40.16" cy="462.16" r="0.45"/><circle cx="36.97" cy="466.25" r="0.45"/><circle cx="35.45" cy="464.89" r="0.45"/><circle cx="34.81" cy="467.42" r="0.45"/><circle cx="42.25" cy="466.07" r="0.45"/><circle cx="43.7" cy="457.24" r="0.45"/><circle cx="34.41" cy="470.3" r="0.45"/><circle cx="39.16" cy="470.19" r="0.45"/><circle cx="38.72" cy="463.25" r="0.45"/><circle cx="41.13" cy="463.33" r="0.45"/><circle cx="34.45" cy="469.91" r="0.45"/><circle cx="38.03" cy="466.32" r="0.45"/><circle cx="38.33" cy="464.9" r="0.45"/><circle cx="38.12" cy="464.5" r="0.45"/><circle cx="38.64" cy="469.63" r="0.45"/><circle cx="39.82" cy="464.94" r="0.45"/><circle cx="34.99" cy="470.15" r="0.45"/><circle cx="38.5" cy="462" r="0.45"/><circle cx="40.26" cy="462.01" r="0.45"/><circle cx="39.16" cy="464.29" r="0.45"/><circle cx="40.53" cy="466.06" r="0.45"/><circle cx="39.72" cy="468.23" r="0.45"/><circle cx="35.66" cy="467.05" r="0.45"/><circle cx="38.57" cy="462.52" r="0.45"/></g>
<g fill="#999" opacity="0.55"><circle cx="40.19" cy="470.79" r="0.4"/><circle cx="32.66" cy="475.33" r="0.4"/><circle cx="39.41" cy="472.47" r="0.4"/><circle cx="38.86" cy="478.96" r="0.4"/><circle cx="42.44" cy="477.17" r="0.4"/><circle cx="36.72" cy="468.29" r="0.4"/><circle cx="33.22" cy="469.39" r="0.4"/><circle cx="25.14" cy="479.35" r="0.4"/><circle cx="38.76" cy="471.16" r="0.4"/><circle cx="42.25" cy="468.72" r="0.4"/><circle cx="39.28" cy="474.84" r="0.4"/><circle cx="30.59" cy="479.95" r="0.4"/><circle cx="38.78" cy="473.99" r="0.4"/><circle cx="33.12" cy="467.4" r="0.4"/><circle cx="46.24" cy="467.86" r="0.4"/><circle cx="36.13" cy="473.26" r="0.4"/><circle cx="44.98" cy="457.75" r="0.4"/><circle cx="45.2" cy="472.15" r="0.4"/><circle cx="42.42" cy="465.26" r="0.4"/><circle cx="39.59" cy="479.35" r="0.4"/><circle cx="37.63" cy="467.34" r="0.4"/><circle cx="36" cy="467.88" r="0.4"/><circle cx="41.94" cy="471.76" r="0.4"/><circle cx="35.72" cy="474.93" r="0.4"/><circle cx="32.83" cy="463.02" r="0.4"/><circle cx="49.96" cy="467.31" r="0.4"/><circle cx="45.94" cy="470.24" r="0.4"/><circle cx="37.03" cy="473.52" r="0.4"/><circle cx="33.97" cy="466.19" r="0.4"/><circle cx="37.09" cy="468.63" r="0.4"/><circle cx="41.57" cy="481.15" r="0.4"/><circle cx="32.42" cy="466.01" r="0.4"/><circle cx="41.75" cy="473.45" r="0.4"/><circle cx="43.5" cy="466.73" r="0.4"/><circle cx="40.98" cy="470.43" r="0.4"/></g>
<ellipse cx="67.8" cy="465" rx="6" ry="3" fill="url(#g2)" opacity="0.75" transform="rotate(-55 67.8 465)"/>
<g fill="#222" opacity="0.68"><circle cx="65.12" cy="469.48" r="0.45"/><circle cx="66.6" cy="465.38" r="0.45"/><circle cx="69.88" cy="462.21" r="0.45"/><circle cx="69.6" cy="467.46" r="0.45"/><circle cx="65.12" cy="465.3" r="0.45"/><circle cx="64.27" cy="468.57" r="0.45"/><circle cx="70.28" cy="463.84" r="0.45"/><circle cx="72.58" cy="463.34" r="0.45"/><circle cx="72.23" cy="460.53" r="0.45"/><circle cx="71.51" cy="461.62" r="0.45"/><circle cx="67.85" cy="467.36" r="0.45"/><circle cx="67.81" cy="464.54" r="0.45"/><circle cx="73.14" cy="459.68" r="0.45"/><circle cx="66.87" cy="466.26" r="0.45"/><circle cx="72.53" cy="457.7" r="0.45"/><circle cx="70.34" cy="463.27" r="0.45"/><circle cx="69.83" cy="463.91" r="0.45"/><circle cx="66.37" cy="465.89" r="0.45"/><circle cx="67.18" cy="465.03" r="0.45"/><circle cx="71.73" cy="463.91" r="0.45"/><circle cx="66.85" cy="468.05" r="0.45"/><circle cx="65.02" cy="467.17" r="0.45"/><circle cx="67.63" cy="465.7" r="0.45"/><circle cx="63.61" cy="463.77" r="0.45"/><circle cx="70.53" cy="460.49" r="0.45"/><circle cx="67.56" cy="467.42" r="0.45"/><circle cx="64.84" cy="465.34" r="0.45"/><circle cx="69.57" cy="463.81" r="0.45"/><circle cx="67.37" cy="468.14" r="0.45"/><circle cx="67.26" cy="462.72" r="0.45"/><circle cx="72.01" cy="459.9" r="0.45"/><circle cx="66.21" cy="468.7" r="0.45"/><circle cx="69.54" cy="465.41" r="0.45"/><circle cx="66.55" cy="469.89" r="0.45"/><circle cx="70.88" cy="462.72" r="0.45"/><circle cx="71.01" cy="464.29" r="0.45"/><circle cx="69.66" cy="462.86" r="0.45"/><circle cx="67.71" cy="468.43" r="0.45"/><circle cx="70.44" cy="462.23" r="0.45"/><circle cx="69.26" cy="465.11" r="0.45"/><circle cx="63.14" cy="472.71" r="0.45"/><circle cx="63.07" cy="472.59" r="0.45"/><circle cx="72.71" cy="463.49" r="0.45"/><circle cx="67.56" cy="466.7" r="0.45"/><circle cx="64.87" cy="463.04" r="0.45"/><circle cx="69.47" cy="462.7" r="0.45"/><circle cx="66.86" cy="463.82" r="0.45"/><circle cx="67.99" cy="465.1" r="0.45"/><circle cx="71.03" cy="461.35" r="0.45"/><circle cx="74.73" cy="454.09" r="0.45"/><circle cx="67.34" cy="465.64" r="0.45"/><circle cx="68.27" cy="468.73" r="0.45"/><circle cx="67.62" cy="461.78" r="0.45"/><circle cx="69.72" cy="465.65" r="0.45"/><circle cx="65.19" cy="469.28" r="0.45"/><circle cx="70.57" cy="467.78" r="0.45"/><circle cx="68.29" cy="463.28" r="0.45"/><circle cx="69.3" cy="468.34" r="0.45"/><circle cx="70.02" cy="468.42" r="0.45"/><circle cx="64.44" cy="469.4" r="0.45"/><circle cx="66.52" cy="464.96" r="0.45"/><circle cx="68.44" cy="466.18" r="0.45"/><circle cx="64.66" cy="465.56" r="0.45"/><circle cx="72.73" cy="462.25" r="0.45"/><circle cx="66.92" cy="467.25" r="0.45"/><circle cx="63.96" cy="473.56" r="0.45"/><circle cx="64.44" cy="468.37" r="0.45"/><circle cx="70.81" cy="457.26" r="0.45"/><circle cx="66.58" cy="463.85" r="0.45"/><circle cx="62.54" cy="469.35" r="0.45"/><circle cx="66.79" cy="462.88" r="0.45"/><circle cx="67.69" cy="467.35" r="0.45"/><circle cx="65.88" cy="464.16" r="0.45"/><circle cx="71.25" cy="460.54" r="0.45"/><circle cx="69.51" cy="459.73" r="0.45"/><circle cx="69.7" cy="458.61" r="0.45"/><circle cx="63.74" cy="469.73" r="0.45"/><circle cx="67.53" cy="466.26" r="0.45"/><circle cx="67.63" cy="467.17" r="0.45"/><circle cx="69.88" cy="460.31" r="0.45"/><circle cx="64.54" cy="468.64" r="0.45"/><circle cx="70.75" cy="463.22" r="0.45"/><circle cx="65.92" cy="465.03" r="0.45"/><circle cx="69.2" cy="465.86" r="0.45"/><circle cx="68.18" cy="468.25" r="0.45"/><circle cx="68.81" cy="464.5" r="0.45"/><circle cx="68.45" cy="468.05" r="0.45"/><circle cx="66.06" cy="463.39" r="0.45"/><circle cx="69.11" cy="462.07" r="0.45"/><circle cx="70.43" cy="461.85" r="0.45"/><circle cx="66.87" cy="466.94" r="0.45"/><circle cx="65.82" cy="465.61" r="0.45"/><circle cx="69.1" cy="465.62" r="0.45"/><circle cx="67.98" cy="464.62" r="0.45"/><circle cx="67.55" cy="467.1" r="0.45"/><circle cx="69.79" cy="464.99" r="0.45"/><circle cx="71.54" cy="465.8" r="0.45"/><circle cx="64.59" cy="469.55" r="0.45"/><circle cx="70.26" cy="464.15" r="0.45"/><circle cx="63.12" cy="468.35" r="0.45"/><circle cx="69.26" cy="466.02" r="0.45"/><circle cx="68.23" cy="460.22" r="0.45"/><circle cx="69.77" cy="465.61" r="0.45"/><circle cx="66.64" cy="463.87" r="0.45"/><circle cx="64.68" cy="465.81" r="0.45"/><circle cx="70.1" cy="461.11" r="0.45"/><circle cx="65.89" cy="465.38" r="0.45"/><circle cx="66.45" cy="464.48" r="0.45"/><circle cx="65.85" cy="467.79" r="0.45"/><circle cx="68.07" cy="466.02" r="0.45"/><circle cx="69.82" cy="465.57" r="0.45"/><circle cx="68.19" cy="465.29" r="0.45"/><circle cx="67.35" cy="463.49" r="0.45"/><circle cx="69.68" cy="460.85" r="0.45"/><circle cx="66.29" cy="470.79" r="0.45"/><circle cx="68.56" cy="462.44" r="0.45"/><circle cx="71.21" cy="462.96" r="0.45"/><circle cx="67.86" cy="461.73" r="0.45"/><circle cx="66.94" cy="463.42" r="0.45"/><circle cx="65.92" cy="466.22" r="0.45"/><circle cx="66.82" cy="467.9" r="0.45"/><circle cx="67.12" cy="467.84" r="0.45"/><circle cx="67.49" cy="463.84" r="0.45"/><circle cx="69.21" cy="465.05" r="0.45"/><circle cx="69.98" cy="461.27" r="0.45"/><circle cx="72.32" cy="460.27" r="0.45"/><circle cx="68.75" cy="459.95" r="0.45"/><circle cx="67.33" cy="469.19" r="0.45"/><circle cx="68.09" cy="466.02" r="0.45"/><circle cx="68.53" cy="460" r="0.45"/><circle cx="71.44" cy="465.37" r="0.45"/><circle cx="69.73" cy="462.62" r="0.45"/><circle cx="69.13" cy="463.25" r="0.45"/><circle cx="71.28" cy="463.82" r="0.45"/><circle cx="68.23" cy="466.12" r="0.45"/><circle cx="69.56" cy="464.7" r="0.45"/><circle cx="68.26" cy="461.43" r="0.45"/><circle cx="71.51" cy="462.25" r="0.45"/><circle cx="65.28" cy="467.91" r="0.45"/><circle cx="64.52" cy="468.99" r="0.45"/><circle cx="67.09" cy="462.87" r="0.45"/><circle cx="65.17" cy="466.41" r="0.45"/><circle cx="65.47" cy="466.27" r="0.45"/><circle cx="66.46" cy="468.62" r="0.45"/><circle cx="66.4" cy="464.8" r="0.45"/><circle cx="69.25" cy="461.46" r="0.45"/><circle cx="68.16" cy="461.11" r="0.45"/><circle cx="70.27" cy="460.32" r="0.45"/><circle cx="66.51" cy="468.11" r="0.45"/><circle cx="63.73" cy="467.89" r="0.45"/><circle cx="67.79" cy="463.77" r="0.45"/><circle cx="68.95" cy="463.86" r="0.45"/><circle cx="68.63" cy="464.29" r="0.45"/><circle cx="69.41" cy="462.81" r="0.45"/><circle cx="71.48" cy="462.51" r="0.45"/><circle cx="61.53" cy="469.13" r="0.45"/><circle cx="70.58" cy="459.89" r="0.45"/><circle cx="68.17" cy="464.26" r="0.45"/><circle cx="71.41" cy="466.14" r="0.45"/><circle cx="66.55" cy="467.08" r="0.45"/><circle cx="66.52" cy="463.91" r="0.45"/><circle cx="65.76" cy="467.26" r="0.45"/><circle cx="68.4" cy="465.33" r="0.45"/><circle cx="61.79" cy="469.29" r="0.45"/><circle cx="71.12" cy="459.87" r="0.45"/><circle cx="69.08" cy="462.09" r="0.45"/><circle cx="69.24" cy="468.98" r="0.45"/><circle cx="64.17" cy="467.74" r="0.45"/><circle cx="69.36" cy="462.93" r="0.45"/><circle cx="64.71" cy="469.91" r="0.45"/></g>
<g fill="#999" opacity="0.55"><circle cx="70.06" cy="471.62" r="0.4"/><circle cx="64.13" cy="480.14" r="0.4"/><circle cx="60.12" cy="470.19" r="0.4"/><circle cx="71.64" cy="473.51" r="0.4"/><circle cx="70.32" cy="464.93" r="0.4"/><circle cx="76.04" cy="466.48" r="0.4"/><circle cx="67.18" cy="470.14" r="0.4"/><circle cx="67.38" cy="467.4" r="0.4"/><circle cx="74.58" cy="470.48" r="0.4"/><circle cx="72.02" cy="462.06" r="0.4"/><circle cx="70.19" cy="469.03" r="0.4"/><circle cx="69.29" cy="471.24" r="0.4"/><circle cx="69.47" cy="469.66" r="0.4"/><circle cx="67.79" cy="470.85" r="0.4"/><circle cx="68.5" cy="470.43" r="0.4"/><circle cx="65.68" cy="472.38" r="0.4"/><circle cx="63.51" cy="480.7" r="0.4"/><circle cx="71.39" cy="477.97" r="0.4"/><circle cx="66.87" cy="463.53" r="0.4"/><circle cx="60.44" cy="466.07" r="0.4"/><circle cx="64.53" cy="468.12" r="0.4"/><circle cx="65.69" cy="473.28" r="0.4"/><circle cx="56.51" cy="478.63" r="0.4"/><circle cx="65.77" cy="470.84" r="0.4"/><circle cx="59.15" cy="471.33" r="0.4"/><circle cx="60.7" cy="472.61" r="0.4"/><circle cx="68.66" cy="470.97" r="0.4"/><circle cx="66.55" cy="468.66" r="0.4"/><circle cx="65.88" cy="474.67" r="0.4"/><circle cx="67.73" cy="471.28" r="0.4"/><circle cx="78.37" cy="470.52" r="0.4"/><circle cx="63.14" cy="458.59" r="0.4"/><circle cx="56.13" cy="470.65" r="0.4"/><circle cx="71.36" cy="464.73" r="0.4"/><circle cx="62" cy="469.06" r="0.4"/></g>
<text transform="translate(23.5,498.6) rotate(-90)" font-size="8.2" textLength="44.2" lengthAdjust="spacingAndGlyphs" fill="#111">EBNA3A/B8</text>
<text transform="translate(23.6,450.2) rotate(-90)" font-size="8.2" textLength="9.8" lengthAdjust="spacingAndGlyphs" fill="#111">tet</text>
<text x="41" y="507.3" font-size="8.2" textLength="16.5" lengthAdjust="spacingAndGlyphs" fill="#111">CD8</text>
<line x1="29.6" y1="552.2" x2="29.6" y2="605.2" stroke="#999" stroke-width="0.9"/>
<line x1="29.6" y1="605.2" x2="55.3" y2="605.2" stroke="#555" stroke-width="0.9" stroke-dasharray="1.8 0.7"/>
<line x1="57.3" y1="552.2" x2="57.3" y2="605.2" stroke="#888" stroke-width="0.9"/>
<line x1="57.3" y1="552.2" x2="84.4" y2="552.2" stroke="#ababab" stroke-width="0.9"/>
<line x1="57.3" y1="605.2" x2="84.4" y2="605.2" stroke="#b0b0b0" stroke-width="0.9" stroke-dasharray="1.2 1.8"/>
<ellipse cx="35.1" cy="585.9" rx="1.21" ry="8.4" fill="url(#g2)" opacity="0.3" transform="rotate(0 35.1 585.9)"/>
<g fill="#aaa" opacity="0.6"><circle cx="34.36" cy="580.17" r="0.4"/><circle cx="35.84" cy="573.75" r="0.4"/><circle cx="35.19" cy="573.97" r="0.4"/><circle cx="36.18" cy="587.74" r="0.4"/><circle cx="36.39" cy="583.78" r="0.4"/><circle cx="35.62" cy="585" r="0.4"/><circle cx="34.71" cy="587.41" r="0.4"/><circle cx="34.29" cy="584.61" r="0.4"/><circle cx="35.86" cy="586.92" r="0.4"/><circle cx="34.97" cy="598.86" r="0.4"/><circle cx="35.35" cy="583.31" r="0.4"/><circle cx="35.43" cy="583.67" r="0.4"/></g>
<ellipse cx="34.8" cy="577" rx="2.53" ry="2.86" fill="url(#g1)" opacity="0.95" transform="rotate(0 34.8 577)"/>
<g fill="#1a1a1a" opacity="0.7"><circle cx="34.23" cy="578.94" r="0.5"/><circle cx="37.43" cy="577.24" r="0.5"/><circle cx="36.31" cy="571.78" r="0.5"/><circle cx="34.75" cy="578.04" r="0.5"/><circle cx="35.37" cy="577.35" r="0.5"/><circle cx="36.2" cy="577.36" r="0.5"/><circle cx="33.67" cy="579.14" r="0.5"/><circle cx="34.86" cy="575.56" r="0.5"/><circle cx="35.23" cy="578.25" r="0.5"/><circle cx="36.11" cy="577.43" r="0.5"/><circle cx="34.99" cy="577.82" r="0.5"/><circle cx="35.56" cy="575.92" r="0.5"/><circle cx="37.24" cy="575.55" r="0.5"/><circle cx="34.44" cy="575.99" r="0.5"/><circle cx="35.22" cy="577.94" r="0.5"/><circle cx="34.71" cy="575.14" r="0.5"/><circle cx="34.75" cy="577.28" r="0.5"/><circle cx="34.25" cy="578.25" r="0.5"/><circle cx="35.43" cy="577.5" r="0.5"/><circle cx="34.53" cy="578.55" r="0.5"/><circle cx="33.61" cy="577.08" r="0.5"/><circle cx="35.25" cy="575.94" r="0.5"/><circle cx="35.45" cy="577.74" r="0.5"/><circle cx="35.06" cy="579" r="0.5"/><circle cx="34" cy="577.2" r="0.5"/><circle cx="36.08" cy="578.46" r="0.5"/><circle cx="33.88" cy="575.47" r="0.5"/><circle cx="34.27" cy="574.07" r="0.5"/><circle cx="35.38" cy="577.22" r="0.5"/><circle cx="33.39" cy="577.43" r="0.5"/><circle cx="33.7" cy="576.95" r="0.5"/><circle cx="34.56" cy="578.09" r="0.5"/><circle cx="36.65" cy="573.83" r="0.5"/><circle cx="33.76" cy="577" r="0.5"/><circle cx="35.67" cy="578.53" r="0.5"/><circle cx="35.11" cy="579.12" r="0.5"/><circle cx="34.62" cy="578.72" r="0.5"/><circle cx="35.33" cy="575.99" r="0.5"/><circle cx="34.01" cy="576.7" r="0.5"/><circle cx="32.95" cy="577.28" r="0.5"/><circle cx="32.41" cy="577.19" r="0.5"/><circle cx="33.95" cy="577.94" r="0.5"/><circle cx="34.13" cy="575.55" r="0.5"/><circle cx="34.44" cy="575.86" r="0.5"/><circle cx="35.76" cy="577.14" r="0.5"/><circle cx="35.44" cy="577.46" r="0.5"/><circle cx="33.64" cy="575.62" r="0.5"/></g>
<ellipse cx="63.4" cy="585.9" rx="1.21" ry="8.4" fill="url(#g2)" opacity="0.3" transform="rotate(0 63.4 585.9)"/>
<g fill="#aaa" opacity="0.6"><circle cx="64" cy="576.58" r="0.4"/><circle cx="62.98" cy="587.01" r="0.4"/><circle cx="64.78" cy="586.62" r="0.4"/><circle cx="62.27" cy="588.36" r="0.4"/><circle cx="62.64" cy="593.47" r="0.4"/><circle cx="63.4" cy="596.57" r="0.4"/><circle cx="63.5" cy="580.86" r="0.4"/><circle cx="62.42" cy="584.58" r="0.4"/><circle cx="63.96" cy="593.26" r="0.4"/><circle cx="63.81" cy="582.46" r="0.4"/><circle cx="64" cy="578.55" r="0.4"/><circle cx="64" cy="582.4" r="0.4"/></g>
<ellipse cx="63.1" cy="577" rx="2.53" ry="2.86" fill="url(#g1)" opacity="0.95" transform="rotate(0 63.1 577)"/>
<g fill="#1a1a1a" opacity="0.7"><circle cx="64.21" cy="577.93" r="0.5"/><circle cx="63.95" cy="576.91" r="0.5"/><circle cx="62.24" cy="576.59" r="0.5"/><circle cx="63.01" cy="574.63" r="0.5"/><circle cx="61.05" cy="574.52" r="0.5"/><circle cx="62.85" cy="575.63" r="0.5"/><circle cx="62.15" cy="578.51" r="0.5"/><circle cx="62.87" cy="575.97" r="0.5"/><circle cx="63.46" cy="575.42" r="0.5"/><circle cx="63.16" cy="576.33" r="0.5"/><circle cx="63.03" cy="577.27" r="0.5"/><circle cx="62.49" cy="577.6" r="0.5"/><circle cx="62.73" cy="577.9" r="0.5"/><circle cx="63.88" cy="575.22" r="0.5"/><circle cx="62.46" cy="578.48" r="0.5"/><circle cx="63.98" cy="580.42" r="0.5"/><circle cx="64.1" cy="575.86" r="0.5"/><circle cx="64.4" cy="580.17" r="0.5"/><circle cx="63.16" cy="577.51" r="0.5"/><circle cx="62.32" cy="577.74" r="0.5"/><circle cx="63.41" cy="576.29" r="0.5"/><circle cx="64.03" cy="577.63" r="0.5"/><circle cx="64.42" cy="577.59" r="0.5"/><circle cx="61.22" cy="577.24" r="0.5"/><circle cx="63.72" cy="576.55" r="0.5"/><circle cx="63.35" cy="575.21" r="0.5"/><circle cx="63.46" cy="576.81" r="0.5"/><circle cx="60.61" cy="578.18" r="0.5"/><circle cx="63.84" cy="577.46" r="0.5"/><circle cx="62.78" cy="578.38" r="0.5"/><circle cx="63.7" cy="576.95" r="0.5"/><circle cx="63.43" cy="575.9" r="0.5"/><circle cx="63.47" cy="576.38" r="0.5"/><circle cx="65.28" cy="579.69" r="0.5"/><circle cx="64.42" cy="577.19" r="0.5"/><circle cx="63.45" cy="578.96" r="0.5"/><circle cx="62.57" cy="578.99" r="0.5"/><circle cx="62.43" cy="574.67" r="0.5"/><circle cx="64.35" cy="579.03" r="0.5"/><circle cx="63.19" cy="579.09" r="0.5"/><circle cx="63.68" cy="574.5" r="0.5"/><circle cx="62.04" cy="576.65" r="0.5"/><circle cx="64.18" cy="579.64" r="0.5"/><circle cx="61.79" cy="575.5" r="0.5"/><circle cx="64.5" cy="576.49" r="0.5"/><circle cx="62.77" cy="578.7" r="0.5"/><circle cx="63.45" cy="578.11" r="0.5"/></g>
<text transform="translate(23.7,605) rotate(-90)" font-size="8.2" textLength="34.7" lengthAdjust="spacingAndGlyphs" fill="#111">FLU/DR4</text>
<text transform="translate(23.7,568.2) rotate(-90)" font-size="8.2" textLength="9.8" lengthAdjust="spacingAndGlyphs" fill="#111">tet</text>
<text x="43" y="616.3" font-size="8.2" textLength="13.3" lengthAdjust="spacingAndGlyphs" fill="#111">FL1</text>
<line x1="29.1" y1="658.6" x2="29.1" y2="711.2" stroke="#999" stroke-width="0.9"/>
<line x1="29.1" y1="711.2" x2="55.8" y2="711.2" stroke="#555" stroke-width="0.9" stroke-dasharray="1.8 0.7"/>
<line x1="29.1" y1="658.6" x2="56.3" y2="658.6" stroke="#ababab" stroke-width="0.9"/>
<line x1="56.3" y1="658.6" x2="56.3" y2="711.2" stroke="#ababab" stroke-width="0.9"/>
<line x1="57.8" y1="658.6" x2="57.8" y2="711.2" stroke="#888" stroke-width="0.9"/>
<line x1="84.4" y1="658.6" x2="84.4" y2="711.2" stroke="#ababab" stroke-width="0.9"/>
<line x1="57.8" y1="711.2" x2="84.4" y2="711.2" stroke="#b0b0b0" stroke-width="0.9" stroke-dasharray="1.2 1.8"/>
<ellipse cx="31.6" cy="685.05" rx="1.43" ry="5.4" fill="url(#g2)" opacity="0.3" transform="rotate(0 31.6 685.05)"/>
<g fill="#aaa" opacity="0.6"><circle cx="30.86" cy="681.37" r="0.4"/><circle cx="32.34" cy="677.24" r="0.4"/><circle cx="31.69" cy="677.38" r="0.4"/><circle cx="32.68" cy="686.23" r="0.4"/><circle cx="32.89" cy="683.68" r="0.4"/><circle cx="32.12" cy="684.47" r="0.4"/><circle cx="31.21" cy="686.02" r="0.4"/><circle cx="30.79" cy="684.22" r="0.4"/><circle cx="32.36" cy="685.71" r="0.4"/><circle cx="31.47" cy="693.38" r="0.4"/><circle cx="31.85" cy="683.39" r="0.4"/><circle cx="31.93" cy="683.62" r="0.4"/></g>
<ellipse cx="31.3" cy="677.4" rx="2.99" ry="3.96" fill="url(#g1)" opacity="0.95" transform="rotate(0 31.3 677.4)"/>
<g fill="#1a1a1a" opacity="0.7"><circle cx="30.62" cy="680.09" r="0.5"/><circle cx="34.41" cy="677.73" r="0.5"/><circle cx="33.08" cy="670.17" r="0.5"/><circle cx="31.24" cy="678.84" r="0.5"/><circle cx="31.97" cy="677.88" r="0.5"/><circle cx="32.96" cy="677.9" r="0.5"/><circle cx="29.97" cy="680.37" r="0.5"/><circle cx="31.37" cy="675.4" r="0.5"/><circle cx="31.8" cy="679.13" r="0.5"/><circle cx="32.85" cy="677.99" r="0.5"/><circle cx="31.53" cy="678.54" r="0.5"/><circle cx="32.19" cy="675.91" r="0.5"/><circle cx="34.19" cy="675.39" r="0.5"/><circle cx="30.87" cy="676" r="0.5"/><circle cx="31.79" cy="678.7" r="0.5"/><circle cx="31.19" cy="674.82" r="0.5"/><circle cx="31.24" cy="677.79" r="0.5"/><circle cx="30.65" cy="679.14" r="0.5"/><circle cx="32.05" cy="678.09" r="0.5"/><circle cx="30.98" cy="679.55" r="0.5"/><circle cx="29.89" cy="677.51" r="0.5"/><circle cx="31.83" cy="675.94" r="0.5"/><circle cx="32.07" cy="678.43" r="0.5"/><circle cx="31.6" cy="680.16" r="0.5"/><circle cx="30.35" cy="677.68" r="0.5"/><circle cx="32.81" cy="679.42" r="0.5"/><circle cx="30.21" cy="675.28" r="0.5"/><circle cx="30.67" cy="673.34" r="0.5"/><circle cx="31.99" cy="677.71" r="0.5"/><circle cx="29.63" cy="677.99" r="0.5"/><circle cx="30.01" cy="677.33" r="0.5"/><circle cx="31.01" cy="678.91" r="0.5"/><circle cx="33.49" cy="673.02" r="0.5"/><circle cx="30.07" cy="677.4" r="0.5"/><circle cx="32.32" cy="679.52" r="0.5"/><circle cx="31.66" cy="680.34" r="0.5"/><circle cx="31.08" cy="679.79" r="0.5"/><circle cx="31.93" cy="676" r="0.5"/><circle cx="30.37" cy="676.99" r="0.5"/><circle cx="29.11" cy="677.79" r="0.5"/><circle cx="28.48" cy="677.67" r="0.5"/><circle cx="30.29" cy="678.7" r="0.5"/><circle cx="30.51" cy="675.39" r="0.5"/><circle cx="30.87" cy="675.82" r="0.5"/><circle cx="32.44" cy="677.59" r="0.5"/><circle cx="32.06" cy="678.04" r="0.5"/><circle cx="29.93" cy="675.49" r="0.5"/><circle cx="32.69" cy="675.65" r="0.5"/><circle cx="30.36" cy="676.72" r="0.5"/><circle cx="30.41" cy="677.66" r="0.5"/><circle cx="32.38" cy="679" r="0.5"/><circle cx="30.66" cy="676.04" r="0.5"/><circle cx="31.21" cy="674.75" r="0.5"/><circle cx="30.52" cy="681.33" r="0.5"/><circle cx="32.16" cy="677.64" r="0.5"/><circle cx="30.6" cy="680.31" r="0.5"/><circle cx="31.25" cy="683.54" r="0.5"/><circle cx="32.24" cy="678.85" r="0.5"/></g>
<ellipse cx="60.6" cy="685.05" rx="1.43" ry="5.4" fill="url(#g2)" opacity="0.3" transform="rotate(0 60.6 685.05)"/>
<g fill="#aaa" opacity="0.6"><circle cx="61.2" cy="679.06" r="0.4"/><circle cx="60.18" cy="685.76" r="0.4"/><circle cx="61.98" cy="685.52" r="0.4"/><circle cx="59.47" cy="686.63" r="0.4"/><circle cx="59.84" cy="689.92" r="0.4"/><circle cx="60.6" cy="691.91" r="0.4"/><circle cx="60.7" cy="681.81" r="0.4"/><circle cx="59.62" cy="684.2" r="0.4"/><circle cx="61.16" cy="689.78" r="0.4"/><circle cx="61.01" cy="682.84" r="0.4"/><circle cx="61.2" cy="680.33" r="0.4"/><circle cx="61.2" cy="682.8" r="0.4"/></g>
<ellipse cx="60.3" cy="677.4" rx="2.99" ry="3.96" fill="url(#g1)" opacity="0.95" transform="rotate(0 60.3 677.4)"/>
<g fill="#1a1a1a" opacity="0.7"><circle cx="61.61" cy="678.69" r="0.5"/><circle cx="61.3" cy="677.27" r="0.5"/><circle cx="59.28" cy="676.83" r="0.5"/><circle cx="60.19" cy="674.12" r="0.5"/><circle cx="57.87" cy="673.97" r="0.5"/><circle cx="60.01" cy="675.51" r="0.5"/><circle cx="59.17" cy="679.5" r="0.5"/><circle cx="60.02" cy="675.97" r="0.5"/><circle cx="60.73" cy="675.21" r="0.5"/><circle cx="60.37" cy="676.47" r="0.5"/><circle cx="60.21" cy="677.77" r="0.5"/><circle cx="59.58" cy="678.22" r="0.5"/><circle cx="59.86" cy="678.65" r="0.5"/><circle cx="61.22" cy="674.94" r="0.5"/><circle cx="59.55" cy="679.45" r="0.5"/><circle cx="61.34" cy="682.13" r="0.5"/><circle cx="61.48" cy="675.83" r="0.5"/><circle cx="61.84" cy="681.79" r="0.5"/><circle cx="60.38" cy="678.11" r="0.5"/><circle cx="59.37" cy="678.43" r="0.5"/><circle cx="60.66" cy="676.42" r="0.5"/><circle cx="61.39" cy="678.27" r="0.5"/><circle cx="61.86" cy="678.22" r="0.5"/><circle cx="58.08" cy="677.73" r="0.5"/><circle cx="61.03" cy="676.78" r="0.5"/><circle cx="60.6" cy="674.93" r="0.5"/><circle cx="60.72" cy="677.13" r="0.5"/><circle cx="57.35" cy="679.03" r="0.5"/><circle cx="61.17" cy="678.03" r="0.5"/><circle cx="59.92" cy="679.31" r="0.5"/><circle cx="61.01" cy="677.33" r="0.5"/><circle cx="60.68" cy="675.88" r="0.5"/><circle cx="60.73" cy="676.54" r="0.5"/><circle cx="62.88" cy="681.13" r="0.5"/><circle cx="61.86" cy="677.66" r="0.5"/><circle cx="60.71" cy="680.12" r="0.5"/><circle cx="59.67" cy="680.15" r="0.5"/><circle cx="59.5" cy="674.17" r="0.5"/><circle cx="61.78" cy="680.21" r="0.5"/><circle cx="60.4" cy="680.29" r="0.5"/><circle cx="60.99" cy="673.94" r="0.5"/><circle cx="59.04" cy="676.92" r="0.5"/><circle cx="61.57" cy="681.06" r="0.5"/><circle cx="58.75" cy="675.32" r="0.5"/><circle cx="61.96" cy="676.69" r="0.5"/><circle cx="59.91" cy="679.75" r="0.5"/><circle cx="60.71" cy="678.94" r="0.5"/><circle cx="61.31" cy="674.89" r="0.5"/><circle cx="60.96" cy="679.67" r="0.5"/><circle cx="58.61" cy="679.55" r="0.5"/><circle cx="60.8" cy="675.64" r="0.5"/><circle cx="60.91" cy="678.1" r="0.5"/><circle cx="59.34" cy="676.59" r="0.5"/><circle cx="62.06" cy="678.18" r="0.5"/><circle cx="59.57" cy="676.13" r="0.5"/><circle cx="61.3" cy="677.78" r="0.5"/><circle cx="59.96" cy="677" r="0.5"/><circle cx="60.55" cy="677.79" r="0.5"/></g>
<text transform="translate(23,709.6) rotate(-90)" font-size="8.2" textLength="31.1" lengthAdjust="spacingAndGlyphs" fill="#111">pp65/A2</text>
<text transform="translate(23.6,676.2) rotate(-90)" font-size="8.2" textLength="9.6" lengthAdjust="spacingAndGlyphs" fill="#111">tet</text>
<text x="43" y="722.5" font-size="8.2" textLength="13.3" lengthAdjust="spacingAndGlyphs" fill="#111">FL1</text>
<line x1="125.6" y1="7" x2="125.6" y2="74.5" stroke="#111" stroke-width="0.9"/>
<line x1="123.4" y1="74" x2="125.6" y2="74" stroke="#111" stroke-width="0.8"/>
<text x="122.4" y="76.38" font-size="6.6" text-anchor="end" fill="#111">0</text>
<line x1="123.4" y1="60.7" x2="125.6" y2="60.7" stroke="#111" stroke-width="0.8"/>
<text x="122.4" y="63.08" font-size="6.6" text-anchor="end" fill="#111">300</text>
<line x1="123.4" y1="47.4" x2="125.6" y2="47.4" stroke="#111" stroke-width="0.8"/>
<text x="122.4" y="49.78" font-size="6.6" text-anchor="end" fill="#111">600</text>
<line x1="123.4" y1="34.1" x2="125.6" y2="34.1" stroke="#111" stroke-width="0.8"/>
<text x="122.4" y="36.48" font-size="6.6" text-anchor="end" fill="#111">900</text>
<line x1="123.4" y1="20.8" x2="125.6" y2="20.8" stroke="#111" stroke-width="0.8"/>
<text x="122.4" y="23.18" font-size="6.6" text-anchor="end" fill="#111">1200</text>
<line x1="123.4" y1="7.5" x2="125.6" y2="7.5" stroke="#111" stroke-width="0.8"/>
<text x="122.4" y="9.88" font-size="6.6" text-anchor="end" fill="#111">1500</text>
<line x1="125.6" y1="74" x2="337.6" y2="74" stroke="#111" stroke-width="0.9"/>
<line x1="133.13" y1="74" x2="133.13" y2="76" stroke="#111" stroke-width="0.8"/>
<line x1="141" y1="74" x2="141" y2="76" stroke="#111" stroke-width="0.8"/>
<line x1="148.88" y1="74" x2="148.88" y2="76" stroke="#111" stroke-width="0.8"/>
<line x1="156.75" y1="74" x2="156.75" y2="76" stroke="#111" stroke-width="0.8"/>
<line x1="164.61" y1="74" x2="164.61" y2="76" stroke="#111" stroke-width="0.8"/>
<line x1="172.48" y1="74" x2="172.48" y2="76" stroke="#111" stroke-width="0.8"/>
<line x1="180.35" y1="74" x2="180.35" y2="76" stroke="#111" stroke-width="0.8"/>
<line x1="188.22" y1="74" x2="188.22" y2="76" stroke="#111" stroke-width="0.8"/>
<line x1="196.09" y1="74" x2="196.09" y2="76" stroke="#111" stroke-width="0.8"/>
<line x1="203.96" y1="74" x2="203.96" y2="76" stroke="#111" stroke-width="0.8"/>
<line x1="211.83" y1="74" x2="211.83" y2="76" stroke="#111" stroke-width="0.8"/>
<line x1="219.7" y1="74" x2="219.7" y2="76" stroke="#111" stroke-width="0.8"/>
<line x1="227.57" y1="74" x2="227.57" y2="76" stroke="#111" stroke-width="0.8"/>
<line x1="235.44" y1="74" x2="235.44" y2="76" stroke="#111" stroke-width="0.8"/>
<line x1="243.31" y1="74" x2="243.31" y2="76" stroke="#111" stroke-width="0.8"/>
<line x1="251.19" y1="74" x2="251.19" y2="76" stroke="#111" stroke-width="0.8"/>
<line x1="259.05" y1="74" x2="259.05" y2="76" stroke="#111" stroke-width="0.8"/>
<line x1="266.92" y1="74" x2="266.92" y2="76" stroke="#111" stroke-width="0.8"/>
<line x1="274.79" y1="74" x2="274.79" y2="76" stroke="#111" stroke-width="0.8"/>
<line x1="282.66" y1="74" x2="282.66" y2="76" stroke="#111" stroke-width="0.8"/>
<line x1="290.53" y1="74" x2="290.53" y2="76" stroke="#111" stroke-width="0.8"/>
<line x1="298.4" y1="74" x2="298.4" y2="76" stroke="#111" stroke-width="0.8"/>
<line x1="306.27" y1="74" x2="306.27" y2="76" stroke="#111" stroke-width="0.8"/>
<line x1="314.14" y1="74" x2="314.14" y2="76" stroke="#111" stroke-width="0.8"/>
<line x1="322.01" y1="74" x2="322.01" y2="76" stroke="#111" stroke-width="0.8"/>
<line x1="329.88" y1="74" x2="329.88" y2="76" stroke="#111" stroke-width="0.8"/>
<line x1="337.75" y1="74" x2="337.75" y2="76" stroke="#111" stroke-width="0.8"/>
<rect x="126.95" y="73" width="4.5" height="1" fill="#000"/>
<rect x="134.82" y="62.52" width="4.5" height="11.48" fill="#000"/>
<rect x="142.69" y="73" width="4.5" height="1" fill="#000"/>
<rect x="150.56" y="55.03" width="4.5" height="18.97" fill="#000"/>
<rect x="158.43" y="73" width="4.5" height="1" fill="#000"/>
<rect x="166.3" y="73" width="4.5" height="1" fill="#000"/>
<rect x="174.17" y="69.57" width="4.5" height="4.43" fill="#000"/>
<rect x="182.04" y="41.24" width="4.5" height="32.76" fill="#000"/>
<line x1="184.29" y1="38.31" x2="184.29" y2="41.24" stroke="#111" stroke-width="1.0"/>
<line x1="182.49" y1="38.41" x2="186.09" y2="38.41" stroke="#111" stroke-width="1.3"/>
<rect x="189.91" y="73" width="4.5" height="1" fill="#000"/>
<rect x="197.78" y="73" width="4.5" height="1" fill="#000"/>
<rect x="205.65" y="73" width="4.5" height="1" fill="#000"/>
<rect x="213.52" y="73" width="4.5" height="1" fill="#000"/>
<rect x="221.39" y="73" width="4.5" height="1" fill="#000"/>
<rect x="229.26" y="54.49" width="4.5" height="19.51" fill="#000"/>
<rect x="237.13" y="73" width="4.5" height="1" fill="#000"/>
<rect x="245" y="73" width="4.5" height="1" fill="#000"/>
<rect x="252.87" y="73" width="4.5" height="1" fill="#000"/>
<rect x="260.74" y="73" width="4.5" height="1" fill="#000"/>
<rect x="268.61" y="73" width="4.5" height="1" fill="#000"/>
<rect x="276.48" y="73" width="4.5" height="1" fill="#000"/>
<rect x="284.35" y="58.75" width="4.5" height="15.25" fill="#000"/>
<rect x="292.22" y="73" width="4.5" height="1" fill="#000"/>
<rect x="300.09" y="73" width="4.5" height="1" fill="#000"/>
<rect x="307.96" y="73" width="4.5" height="1" fill="#000"/>
<rect x="315.83" y="73" width="4.5" height="1" fill="#000"/>
<rect x="323.7" y="73" width="4.5" height="1" fill="#000"/>
<rect x="331.57" y="24.26" width="4.5" height="49.74" fill="#000"/>
<line x1="333.82" y1="22" x2="333.82" y2="24.26" stroke="#111" stroke-width="1.0"/>
<line x1="332.02" y1="22.1" x2="335.62" y2="22.1" stroke="#111" stroke-width="1.3"/>
<text transform="translate(131.72,76.2) rotate(-90)" font-size="7.0" text-anchor="end" fill="#111">CEL</text>
<text transform="translate(139.59,76.2) rotate(-90)" font-size="7.0" text-anchor="end" fill="#111">AAS</text>
<text transform="translate(147.46,76.2) rotate(-90)" font-size="7.0" text-anchor="end" fill="#111">AHT</text>
<text transform="translate(155.33,76.2) rotate(-90)" font-size="7.0" text-anchor="end" fill="#111">CVV</text>
<text transform="translate(163.2,76.2) rotate(-90)" font-size="7.0" text-anchor="end" fill="#111">EIR</text>
<text transform="translate(171.07,76.2) rotate(-90)" font-size="7.0" text-anchor="end" fill="#111">FAQ</text>
<text transform="translate(178.94,76.2) rotate(-90)" font-size="7.0" text-anchor="end" fill="#111">FRQ</text>
<text transform="translate(186.81,76.2) rotate(-90)" font-size="7.0" text-anchor="end" fill="#111">GGT</text>
<text transform="translate(194.68,76.2) rotate(-90)" font-size="7.0" text-anchor="end" fill="#111">JLX</text>
<text transform="translate(202.55,76.2) rotate(-90)" font-size="7.0" text-anchor="end" fill="#111">LAJ</text>
<text transform="translate(210.42,76.2) rotate(-90)" font-size="7.0" text-anchor="end" fill="#111">LMB</text>
<text transform="translate(218.29,76.2) rotate(-90)" font-size="7.0" text-anchor="end" fill="#111">MBX</text>
<text transform="translate(226.16,76.2) rotate(-90)" font-size="7.0" text-anchor="end" fill="#111">NGI</text>
<text transform="translate(234.03,76.2) rotate(-90)" font-size="7.0" text-anchor="end" fill="#111">RSW</text>
<text transform="translate(241.9,76.2) rotate(-90)" font-size="7.0" text-anchor="end" fill="#111">ZIL</text>
<text transform="translate(249.77,76.2) rotate(-90)" font-size="7.0" text-anchor="end" fill="#111">ESK</text>
<text transform="translate(257.64,76.2) rotate(-90)" font-size="7.0" text-anchor="end" fill="#111">LSR</text>
<text transform="translate(265.51,76.2) rotate(-90)" font-size="7.0" text-anchor="end" fill="#111">EBM</text>
<text transform="translate(273.38,76.2) rotate(-90)" font-size="7.0" text-anchor="end" fill="#111">TSJ</text>
<text transform="translate(281.25,76.2) rotate(-90)" font-size="7.0" text-anchor="end" fill="#111">IZA</text>
<text transform="translate(289.12,76.2) rotate(-90)" font-size="7.0" text-anchor="end" fill="#111">CSV</text>
<text transform="translate(296.99,76.2) rotate(-90)" font-size="7.0" text-anchor="end" fill="#111">JPF</text>
<text transform="translate(304.86,76.2) rotate(-90)" font-size="7.0" text-anchor="end" fill="#111">MHX</text>
<text transform="translate(312.73,76.2) rotate(-90)" font-size="7.0" text-anchor="end" fill="#111">OMR</text>
<text transform="translate(320.6,76.2) rotate(-90)" font-size="7.0" text-anchor="end" fill="#111">TIS</text>
<text transform="translate(328.47,76.2) rotate(-90)" font-size="7.0" text-anchor="end" fill="#111">CODI</text>
<text transform="translate(336.34,76.2) rotate(-90)" font-size="7.0" text-anchor="end" fill="#111">pept</text>
<text x="135.4" y="60" font-size="7.0" text-anchor="middle" fill="#111">A31</text>
<text x="158.3" y="52.8" font-size="7.0" text-anchor="middle" fill="#111">A31</text>
<text x="184.2" y="35.6" font-size="7.0" text-anchor="middle" fill="#111">A31</text>
<text x="232.5" y="51.2" font-size="7.0" text-anchor="middle" fill="#111">A30</text>
<text x="285.2" y="55.3" font-size="7.0" text-anchor="middle" fill="#111">A31</text>
<text x="188" y="6.2" font-size="7.15" text-anchor="start" fill="#111">EBV-EBNA3A / HLA-A3 clone 1</text>
<line x1="362.5" y1="7.1" x2="362.5" y2="74.2" stroke="#111" stroke-width="0.9"/>
<line x1="360.3" y1="73.7" x2="362.5" y2="73.7" stroke="#111" stroke-width="0.8"/>
<text x="359.3" y="76.08" font-size="6.6" text-anchor="end" fill="#111">0</text>
<line x1="360.3" y1="60.48" x2="362.5" y2="60.48" stroke="#111" stroke-width="0.8"/>
<text x="359.3" y="62.86" font-size="6.6" text-anchor="end" fill="#111">200</text>
<line x1="360.3" y1="47.26" x2="362.5" y2="47.26" stroke="#111" stroke-width="0.8"/>
<text x="359.3" y="49.64" font-size="6.6" text-anchor="end" fill="#111">400</text>
<line x1="360.3" y1="34.04" x2="362.5" y2="34.04" stroke="#111" stroke-width="0.8"/>
<text x="359.3" y="36.42" font-size="6.6" text-anchor="end" fill="#111">600</text>
<line x1="360.3" y1="20.82" x2="362.5" y2="20.82" stroke="#111" stroke-width="0.8"/>
<text x="359.3" y="23.2" font-size="6.6" text-anchor="end" fill="#111">800</text>
<line x1="360.3" y1="7.6" x2="362.5" y2="7.6" stroke="#111" stroke-width="0.8"/>
<text x="359.3" y="9.98" font-size="6.6" text-anchor="end" fill="#111">1000</text>
<line x1="362.5" y1="73.7" x2="442" y2="73.7" stroke="#111" stroke-width="0.9"/>
<line x1="365.55" y1="73.7" x2="365.55" y2="75.7" stroke="#111" stroke-width="0.8"/>
<line x1="380.25" y1="73.7" x2="380.25" y2="75.7" stroke="#111" stroke-width="0.8"/>
<line x1="394.95" y1="73.7" x2="394.95" y2="75.7" stroke="#111" stroke-width="0.8"/>
<line x1="409.65" y1="73.7" x2="409.65" y2="75.7" stroke="#111" stroke-width="0.8"/>
<line x1="424.35" y1="73.7" x2="424.35" y2="75.7" stroke="#111" stroke-width="0.8"/>
<line x1="439.05" y1="73.7" x2="439.05" y2="75.7" stroke="#111" stroke-width="0.8"/>
<rect x="398.8" y="54.99" width="7" height="18.71" fill="#000"/>
<rect x="413.5" y="72.7" width="7" height="1" fill="#000"/>
<rect x="428.2" y="16.33" width="7" height="57.37" fill="#000"/>
<line x1="431.7" y1="10.38" x2="431.7" y2="16.33" stroke="#111" stroke-width="1.0"/>
<line x1="428.9" y1="10.48" x2="434.5" y2="10.48" stroke="#111" stroke-width="1.3"/>
<text transform="translate(375.42,78.3) rotate(-90)" font-size="7.0" text-anchor="end" fill="#111">K562</text>
<text transform="translate(390.12,78.3) rotate(-90)" font-size="7.0" text-anchor="end" fill="#111">K562+A2</text>
<text transform="translate(404.82,78.3) rotate(-90)" font-size="7.0" text-anchor="end" fill="#111">K562+A31</text>
<text transform="translate(419.52,78.3) rotate(-90)" font-size="7.0" text-anchor="end" fill="#111">A31neg LCL</text>
<text transform="translate(434.22,78.3) rotate(-90)" font-size="7.0" text-anchor="end" fill="#111">A31+ LCL</text>
<line x1="463" y1="6.7" x2="463" y2="74.8" stroke="#111" stroke-width="0.9"/>
<line x1="460.8" y1="74.3" x2="463" y2="74.3" stroke="#111" stroke-width="0.8"/>
<text x="459.8" y="76.68" font-size="6.6" text-anchor="end" fill="#111">0</text>
<line x1="460.8" y1="60.88" x2="463" y2="60.88" stroke="#111" stroke-width="0.8"/>
<text x="459.8" y="63.26" font-size="6.6" text-anchor="end" fill="#111">100</text>
<line x1="460.8" y1="47.46" x2="463" y2="47.46" stroke="#111" stroke-width="0.8"/>
<text x="459.8" y="49.84" font-size="6.6" text-anchor="end" fill="#111">200</text>
<line x1="460.8" y1="34.04" x2="463" y2="34.04" stroke="#111" stroke-width="0.8"/>
<text x="459.8" y="36.42" font-size="6.6" text-anchor="end" fill="#111">300</text>
<line x1="460.8" y1="20.62" x2="463" y2="20.62" stroke="#111" stroke-width="0.8"/>
<text x="459.8" y="23" font-size="6.6" text-anchor="end" fill="#111">400</text>
<line x1="460.8" y1="7.2" x2="463" y2="7.2" stroke="#111" stroke-width="0.8"/>
<text x="459.8" y="9.58" font-size="6.6" text-anchor="end" fill="#111">500</text>
<line x1="463" y1="74.3" x2="520" y2="74.3" stroke="#111" stroke-width="0.9"/>
<rect x="465.9" y="15.25" width="4.1" height="59.05" fill="#000"/>
<line x1="467.95" y1="11.09" x2="467.95" y2="15.25" stroke="#111" stroke-width="1.0"/>
<line x1="466.31" y1="11.19" x2="469.59" y2="11.19" stroke="#111" stroke-width="1.3"/>
<rect x="480.3" y="73.3" width="4.1" height="1" fill="#000"/>
<rect x="494.4" y="73.3" width="4.1" height="1" fill="#000"/>
<rect x="508.5" y="20.62" width="4.1" height="53.68" fill="#000"/>
<rect x="470.4" y="39.81" width="3.3" height="34.49" fill="#d6d6d6" stroke="#000" stroke-width="0.8"/>
<line x1="472.05" y1="38.74" x2="472.05" y2="39.41" stroke="#111" stroke-width="1.0"/>
<line x1="470.41" y1="38.84" x2="473.69" y2="38.84" stroke="#111" stroke-width="1.3"/>
<rect x="484.8" y="74.3" width="3.3" height="0.3" fill="#d6d6d6" stroke="#000" stroke-width="0.8"/>
<rect x="498.9" y="74.3" width="3.3" height="0.3" fill="#d6d6d6" stroke="#000" stroke-width="0.8"/>
<rect x="513" y="20.35" width="3.3" height="53.95" fill="#d6d6d6" stroke="#000" stroke-width="0.8"/>
<line x1="514.65" y1="14.58" x2="514.65" y2="19.95" stroke="#111" stroke-width="1.0"/>
<line x1="513.01" y1="14.68" x2="516.29" y2="14.68" stroke="#111" stroke-width="1.3"/>
<text transform="translate(474.32,78.2) rotate(-90)" font-size="7.0" text-anchor="end" fill="#111">no block</text>
<text transform="translate(488.72,78.2) rotate(-90)" font-size="7.0" text-anchor="end" fill="#111">class I</text>
<text transform="translate(502.82,78.2) rotate(-90)" font-size="7.0" text-anchor="end" fill="#111">A30/A31</text>
<text transform="translate(516.92,78.2) rotate(-90)" font-size="7.0" text-anchor="end" fill="#111">A2</text>
<rect x="473" y="4.6" width="4" height="4" fill="#000"/>
<rect x="473.4" y="15.4" width="3.4" height="3.4" fill="#d6d6d6" stroke="#000" stroke-width="0.8"/>
<text x="479" y="8.6" font-size="6.8" text-anchor="start" fill="#111">A31+<tspan font-size="5.2">LCL</tspan></text>
<text x="479" y="19.2" font-size="6.8" text-anchor="start" fill="#111">A30+<tspan font-size="5.2">LCL</tspan></text>
<line x1="126.25" y1="115" x2="126.25" y2="181.1" stroke="#111" stroke-width="0.9"/>
<line x1="124.05" y1="180.6" x2="126.25" y2="180.6" stroke="#111" stroke-width="0.8"/>
<text x="123.05" y="182.98" font-size="6.6" text-anchor="end" fill="#111">0</text>
<line x1="124.05" y1="158.9" x2="126.25" y2="158.9" stroke="#111" stroke-width="0.8"/>
<text x="123.05" y="161.28" font-size="6.6" text-anchor="end" fill="#111">300</text>
<line x1="124.05" y1="137.2" x2="126.25" y2="137.2" stroke="#111" stroke-width="0.8"/>
<text x="123.05" y="139.58" font-size="6.6" text-anchor="end" fill="#111">600</text>
<line x1="124.05" y1="115.5" x2="126.25" y2="115.5" stroke="#111" stroke-width="0.8"/>
<text x="123.05" y="117.88" font-size="6.6" text-anchor="end" fill="#111">900</text>
<line x1="126.25" y1="180.6" x2="337.5" y2="180.6" stroke="#111" stroke-width="0.9"/>
<line x1="135.12" y1="180.6" x2="135.12" y2="182.6" stroke="#111" stroke-width="0.8"/>
<line x1="144.75" y1="180.6" x2="144.75" y2="182.6" stroke="#111" stroke-width="0.8"/>
<line x1="154.38" y1="180.6" x2="154.38" y2="182.6" stroke="#111" stroke-width="0.8"/>
<line x1="164.01" y1="180.6" x2="164.01" y2="182.6" stroke="#111" stroke-width="0.8"/>
<line x1="173.64" y1="180.6" x2="173.64" y2="182.6" stroke="#111" stroke-width="0.8"/>
<line x1="183.27" y1="180.6" x2="183.27" y2="182.6" stroke="#111" stroke-width="0.8"/>
<line x1="192.9" y1="180.6" x2="192.9" y2="182.6" stroke="#111" stroke-width="0.8"/>
<line x1="202.53" y1="180.6" x2="202.53" y2="182.6" stroke="#111" stroke-width="0.8"/>
<line x1="212.16" y1="180.6" x2="212.16" y2="182.6" stroke="#111" stroke-width="0.8"/>
<line x1="221.79" y1="180.6" x2="221.79" y2="182.6" stroke="#111" stroke-width="0.8"/>
<line x1="231.42" y1="180.6" x2="231.42" y2="182.6" stroke="#111" stroke-width="0.8"/>
<line x1="241.05" y1="180.6" x2="241.05" y2="182.6" stroke="#111" stroke-width="0.8"/>
<line x1="250.68" y1="180.6" x2="250.68" y2="182.6" stroke="#111" stroke-width="0.8"/>
<line x1="260.31" y1="180.6" x2="260.31" y2="182.6" stroke="#111" stroke-width="0.8"/>
<line x1="269.94" y1="180.6" x2="269.94" y2="182.6" stroke="#111" stroke-width="0.8"/>
<line x1="279.57" y1="180.6" x2="279.57" y2="182.6" stroke="#111" stroke-width="0.8"/>
<line x1="289.2" y1="180.6" x2="289.2" y2="182.6" stroke="#111" stroke-width="0.8"/>
<line x1="298.83" y1="180.6" x2="298.83" y2="182.6" stroke="#111" stroke-width="0.8"/>
<line x1="308.46" y1="180.6" x2="308.46" y2="182.6" stroke="#111" stroke-width="0.8"/>
<line x1="318.09" y1="180.6" x2="318.09" y2="182.6" stroke="#111" stroke-width="0.8"/>
<line x1="327.72" y1="180.6" x2="327.72" y2="182.6" stroke="#111" stroke-width="0.8"/>
<line x1="337.35" y1="180.6" x2="337.35" y2="182.6" stroke="#111" stroke-width="0.8"/>
<rect x="127.65" y="177.71" width="5.3" height="2.89" fill="#000"/>
<rect x="137.28" y="178.79" width="5.3" height="1.81" fill="#000"/>
<rect x="146.91" y="170.11" width="5.3" height="10.49" fill="#000"/>
<rect x="156.54" y="137.06" width="5.3" height="43.54" fill="#000"/>
<line x1="159.19" y1="133" x2="159.19" y2="137.06" stroke="#111" stroke-width="1.0"/>
<line x1="157.07" y1="133.1" x2="161.31" y2="133.1" stroke="#111" stroke-width="1.3"/>
<rect x="166.17" y="178.43" width="5.3" height="2.17" fill="#000"/>
<line x1="168.82" y1="176.62" x2="168.82" y2="178.43" stroke="#111" stroke-width="1.0"/>
<line x1="166.7" y1="176.72" x2="170.94" y2="176.72" stroke="#111" stroke-width="1.3"/>
<rect x="175.8" y="179.15" width="5.3" height="1.45" fill="#000"/>
<rect x="195.06" y="179.6" width="5.3" height="1" fill="#000"/>
<rect x="204.69" y="174.09" width="5.3" height="6.51" fill="#000"/>
<rect x="223.95" y="143.71" width="5.3" height="36.89" fill="#000"/>
<line x1="226.6" y1="140.82" x2="226.6" y2="143.71" stroke="#111" stroke-width="1.0"/>
<line x1="224.48" y1="140.92" x2="228.72" y2="140.92" stroke="#111" stroke-width="1.3"/>
<rect x="243.21" y="165.27" width="5.3" height="15.33" fill="#000"/>
<line x1="245.86" y1="161.65" x2="245.86" y2="165.27" stroke="#111" stroke-width="1.0"/>
<line x1="243.74" y1="161.75" x2="247.98" y2="161.75" stroke="#111" stroke-width="1.3"/>
<rect x="262.47" y="179.6" width="5.3" height="1" fill="#000"/>
<rect x="300.99" y="178.43" width="5.3" height="2.17" fill="#000"/>
<rect x="310.62" y="174.81" width="5.3" height="5.79" fill="#000"/>
<rect x="320.25" y="152.17" width="5.3" height="28.43" fill="#000"/>
<line x1="322.9" y1="141.76" x2="322.9" y2="152.17" stroke="#111" stroke-width="1.0"/>
<line x1="320.78" y1="141.86" x2="325.02" y2="141.86" stroke="#111" stroke-width="1.3"/>
<rect x="329.88" y="133.73" width="5.3" height="46.87" fill="#000"/>
<line x1="332.53" y1="124.76" x2="332.53" y2="133.73" stroke="#111" stroke-width="1.0"/>
<line x1="330.41" y1="124.86" x2="334.65" y2="124.86" stroke="#111" stroke-width="1.3"/>
<text transform="translate(132.82,182.8) rotate(-90)" font-size="7.0" text-anchor="end" fill="#111">AAS</text>
<text transform="translate(142.45,182.8) rotate(-90)" font-size="7.0" text-anchor="end" fill="#111">ABV</text>
<text transform="translate(152.08,182.8) rotate(-90)" font-size="7.0" text-anchor="end" fill="#111">AHT</text>
<text transform="translate(161.71,182.8) rotate(-90)" font-size="7.0" text-anchor="end" fill="#111">CVV</text>
<text transform="translate(171.34,182.8) rotate(-90)" font-size="7.0" text-anchor="end" fill="#111">AKB</text>
<text transform="translate(180.97,182.8) rotate(-90)" font-size="7.0" text-anchor="end" fill="#111">FAQ</text>
<text transform="translate(190.6,182.8) rotate(-90)" font-size="7.0" text-anchor="end" fill="#111">GGT</text>
<text transform="translate(200.23,182.8) rotate(-90)" font-size="7.0" text-anchor="end" fill="#111">PSJ</text>
<text transform="translate(209.86,182.8) rotate(-90)" font-size="7.0" text-anchor="end" fill="#111">LMB</text>
<text transform="translate(219.49,182.8) rotate(-90)" font-size="7.0" text-anchor="end" fill="#111">MBX</text>
<text transform="translate(229.12,182.8) rotate(-90)" font-size="7.0" text-anchor="end" fill="#111">NGI</text>
<text transform="translate(238.75,182.8) rotate(-90)" font-size="7.0" text-anchor="end" fill="#111">MWX</text>
<text transform="translate(248.38,182.8) rotate(-90)" font-size="7.0" text-anchor="end" fill="#111">LSR</text>
<text transform="translate(258.01,182.8) rotate(-90)" font-size="7.0" text-anchor="end" fill="#111">EBM</text>
<text transform="translate(267.64,182.8) rotate(-90)" font-size="7.0" text-anchor="end" fill="#111">PMT</text>
<text transform="translate(277.27,182.8) rotate(-90)" font-size="7.0" text-anchor="end" fill="#111">TSJ</text>
<text transform="translate(286.9,182.8) rotate(-90)" font-size="7.0" text-anchor="end" fill="#111">IZA</text>
<text transform="translate(296.53,182.8) rotate(-90)" font-size="7.0" text-anchor="end" fill="#111">CSV</text>
<text transform="translate(306.16,182.8) rotate(-90)" font-size="7.0" text-anchor="end" fill="#111">MHX</text>
<text transform="translate(315.79,182.8) rotate(-90)" font-size="7.0" text-anchor="end" fill="#111">OMR</text>
<text transform="translate(325.42,182.8) rotate(-90)" font-size="7.0" text-anchor="end" fill="#111">NGZ</text>
<text transform="translate(335.05,182.8) rotate(-90)" font-size="7.0" text-anchor="end" fill="#111">pept</text>
<text x="159.5" y="128.7" font-size="7.0" text-anchor="middle" fill="#111">A11</text>
<text x="226.5" y="138.7" font-size="7.0" text-anchor="middle" fill="#111">A11</text>
<text x="321" y="138.7" font-size="7.0" text-anchor="middle" fill="#111">A11</text>
<text x="189.5" y="126.2" font-size="7.15" text-anchor="start" fill="#111">CMV-pp50 / HLA-A1 clone 24</text>
<line x1="365.5" y1="115.25" x2="365.5" y2="181" stroke="#111" stroke-width="0.9"/>
<line x1="363.3" y1="180.5" x2="365.5" y2="180.5" stroke="#111" stroke-width="0.8"/>
<text x="362.3" y="182.88" font-size="6.6" text-anchor="end" fill="#111">0</text>
<line x1="363.3" y1="164.31" x2="365.5" y2="164.31" stroke="#111" stroke-width="0.8"/>
<text x="362.3" y="166.69" font-size="6.6" text-anchor="end" fill="#111">200</text>
<line x1="363.3" y1="148.12" x2="365.5" y2="148.12" stroke="#111" stroke-width="0.8"/>
<text x="362.3" y="150.5" font-size="6.6" text-anchor="end" fill="#111">400</text>
<line x1="363.3" y1="131.94" x2="365.5" y2="131.94" stroke="#111" stroke-width="0.8"/>
<text x="362.3" y="134.31" font-size="6.6" text-anchor="end" fill="#111">600</text>
<line x1="363.3" y1="115.75" x2="365.5" y2="115.75" stroke="#111" stroke-width="0.8"/>
<text x="362.3" y="118.13" font-size="6.6" text-anchor="end" fill="#111">800</text>
<line x1="365.5" y1="180.5" x2="440" y2="180.5" stroke="#111" stroke-width="0.9"/>
<line x1="384.1" y1="180.5" x2="384.1" y2="182.5" stroke="#111" stroke-width="0.8"/>
<line x1="402.7" y1="180.5" x2="402.7" y2="182.5" stroke="#111" stroke-width="0.8"/>
<line x1="421.3" y1="180.5" x2="421.3" y2="182.5" stroke="#111" stroke-width="0.8"/>
<line x1="439.9" y1="180.5" x2="439.9" y2="182.5" stroke="#111" stroke-width="0.8"/>
<rect x="407.7" y="132.99" width="8.6" height="47.51" fill="#000"/>
<line x1="412" y1="131.29" x2="412" y2="132.99" stroke="#111" stroke-width="1.0"/>
<line x1="408.56" y1="131.39" x2="415.44" y2="131.39" stroke="#111" stroke-width="1.3"/>
<rect x="426.3" y="162.05" width="8.6" height="18.45" fill="#000"/>
<text transform="translate(377.32,182.7) rotate(-90)" font-size="7.0" text-anchor="end" fill="#111">K562</text>
<text transform="translate(395.92,182.7) rotate(-90)" font-size="7.0" text-anchor="end" fill="#111">K562+A2</text>
<text transform="translate(414.52,182.7) rotate(-90)" font-size="7.0" text-anchor="end" fill="#111">K562+A11</text>
<text transform="translate(433.12,182.7) rotate(-90)" font-size="7.0" text-anchor="end" fill="#111">A11+ LCL</text>
<line x1="125.5" y1="220" x2="125.5" y2="287.5" stroke="#111" stroke-width="0.9"/>
<line x1="123.3" y1="287" x2="125.5" y2="287" stroke="#111" stroke-width="0.8"/>
<text x="122.3" y="289.38" font-size="6.6" text-anchor="end" fill="#111">0</text>
<line x1="123.3" y1="270.38" x2="125.5" y2="270.38" stroke="#111" stroke-width="0.8"/>
<text x="122.3" y="272.75" font-size="6.6" text-anchor="end" fill="#111">200</text>
<line x1="123.3" y1="253.75" x2="125.5" y2="253.75" stroke="#111" stroke-width="0.8"/>
<text x="122.3" y="256.13" font-size="6.6" text-anchor="end" fill="#111">400</text>
<line x1="123.3" y1="237.12" x2="125.5" y2="237.12" stroke="#111" stroke-width="0.8"/>
<text x="122.3" y="239.5" font-size="6.6" text-anchor="end" fill="#111">600</text>
<line x1="123.3" y1="220.5" x2="125.5" y2="220.5" stroke="#111" stroke-width="0.8"/>
<text x="122.3" y="222.88" font-size="6.6" text-anchor="end" fill="#111">800</text>
<line x1="125.5" y1="287" x2="337.5" y2="287" stroke="#111" stroke-width="0.9"/>
<line x1="131.94" y1="287" x2="131.94" y2="289" stroke="#111" stroke-width="0.8"/>
<line x1="139.82" y1="287" x2="139.82" y2="289" stroke="#111" stroke-width="0.8"/>
<line x1="147.7" y1="287" x2="147.7" y2="289" stroke="#111" stroke-width="0.8"/>
<line x1="155.58" y1="287" x2="155.58" y2="289" stroke="#111" stroke-width="0.8"/>
<line x1="163.46" y1="287" x2="163.46" y2="289" stroke="#111" stroke-width="0.8"/>
<line x1="171.34" y1="287" x2="171.34" y2="289" stroke="#111" stroke-width="0.8"/>
<line x1="179.22" y1="287" x2="179.22" y2="289" stroke="#111" stroke-width="0.8"/>
<line x1="187.1" y1="287" x2="187.1" y2="289" stroke="#111" stroke-width="0.8"/>
<line x1="194.98" y1="287" x2="194.98" y2="289" stroke="#111" stroke-width="0.8"/>
<line x1="202.86" y1="287" x2="202.86" y2="289" stroke="#111" stroke-width="0.8"/>
<line x1="210.74" y1="287" x2="210.74" y2="289" stroke="#111" stroke-width="0.8"/>
<line x1="218.62" y1="287" x2="218.62" y2="289" stroke="#111" stroke-width="0.8"/>
<line x1="226.5" y1="287" x2="226.5" y2="289" stroke="#111" stroke-width="0.8"/>
<line x1="234.38" y1="287" x2="234.38" y2="289" stroke="#111" stroke-width="0.8"/>
<line x1="242.26" y1="287" x2="242.26" y2="289" stroke="#111" stroke-width="0.8"/>
<line x1="250.14" y1="287" x2="250.14" y2="289" stroke="#111" stroke-width="0.8"/>
<line x1="258.02" y1="287" x2="258.02" y2="289" stroke="#111" stroke-width="0.8"/>
<line x1="265.9" y1="287" x2="265.9" y2="289" stroke="#111" stroke-width="0.8"/>
<line x1="273.78" y1="287" x2="273.78" y2="289" stroke="#111" stroke-width="0.8"/>
<line x1="281.66" y1="287" x2="281.66" y2="289" stroke="#111" stroke-width="0.8"/>
<line x1="289.54" y1="287" x2="289.54" y2="289" stroke="#111" stroke-width="0.8"/>
<line x1="297.42" y1="287" x2="297.42" y2="289" stroke="#111" stroke-width="0.8"/>
<line x1="305.3" y1="287" x2="305.3" y2="289" stroke="#111" stroke-width="0.8"/>
<line x1="313.18" y1="287" x2="313.18" y2="289" stroke="#111" stroke-width="0.8"/>
<line x1="321.06" y1="287" x2="321.06" y2="289" stroke="#111" stroke-width="0.8"/>
<line x1="328.94" y1="287" x2="328.94" y2="289" stroke="#111" stroke-width="0.8"/>
<line x1="336.82" y1="287" x2="336.82" y2="289" stroke="#111" stroke-width="0.8"/>
<rect x="125.8" y="286" width="4.4" height="1" fill="#000"/>
<rect x="133.68" y="281.18" width="4.4" height="5.82" fill="#000"/>
<rect x="141.56" y="272.87" width="4.4" height="14.13" fill="#000"/>
<line x1="143.76" y1="269.54" x2="143.76" y2="272.87" stroke="#111" stroke-width="1.0"/>
<line x1="142" y1="269.64" x2="145.52" y2="269.64" stroke="#111" stroke-width="1.3"/>
<rect x="149.44" y="286" width="4.4" height="1" fill="#000"/>
<rect x="157.32" y="231.22" width="4.4" height="55.78" fill="#000"/>
<rect x="165.2" y="286" width="4.4" height="1" fill="#000"/>
<rect x="173.08" y="280.77" width="4.4" height="6.23" fill="#000"/>
<line x1="175.28" y1="278.27" x2="175.28" y2="280.77" stroke="#111" stroke-width="1.0"/>
<line x1="173.52" y1="278.37" x2="177.04" y2="278.37" stroke="#111" stroke-width="1.3"/>
<rect x="180.96" y="285.34" width="4.4" height="1.66" fill="#000"/>
<rect x="188.84" y="286" width="4.4" height="1" fill="#000"/>
<rect x="196.72" y="233.72" width="4.4" height="53.28" fill="#000"/>
<rect x="204.6" y="285.75" width="4.4" height="1.25" fill="#000"/>
<rect x="212.48" y="283.68" width="4.4" height="3.33" fill="#000"/>
<rect x="220.36" y="285.75" width="4.4" height="1.25" fill="#000"/>
<rect x="228.24" y="286" width="4.4" height="1" fill="#000"/>
<rect x="236.12" y="286" width="4.4" height="1" fill="#000"/>
<rect x="244" y="286" width="4.4" height="1" fill="#000"/>
<rect x="251.88" y="282.01" width="4.4" height="4.99" fill="#000"/>
<line x1="254.08" y1="277.52" x2="254.08" y2="282.01" stroke="#111" stroke-width="1.0"/>
<line x1="252.32" y1="277.62" x2="255.84" y2="277.62" stroke="#111" stroke-width="1.3"/>
<rect x="259.76" y="282.84" width="4.4" height="4.16" fill="#000"/>
<line x1="261.96" y1="277.02" x2="261.96" y2="282.84" stroke="#111" stroke-width="1.0"/>
<line x1="260.2" y1="277.12" x2="263.72" y2="277.12" stroke="#111" stroke-width="1.3"/>
<rect x="267.64" y="255" width="4.4" height="32" fill="#000"/>
<line x1="269.84" y1="252" x2="269.84" y2="255" stroke="#111" stroke-width="1.0"/>
<line x1="268.08" y1="252.1" x2="271.6" y2="252.1" stroke="#111" stroke-width="1.3"/>
<rect x="275.52" y="283.26" width="4.4" height="3.74" fill="#000"/>
<line x1="277.72" y1="276.03" x2="277.72" y2="283.26" stroke="#111" stroke-width="1.0"/>
<line x1="275.96" y1="276.13" x2="279.48" y2="276.13" stroke="#111" stroke-width="1.3"/>
<rect x="283.4" y="277.52" width="4.4" height="9.48" fill="#000"/>
<line x1="285.6" y1="274.53" x2="285.6" y2="277.52" stroke="#111" stroke-width="1.0"/>
<line x1="283.84" y1="274.63" x2="287.36" y2="274.63" stroke="#111" stroke-width="1.3"/>
<rect x="291.28" y="283.76" width="4.4" height="3.24" fill="#000"/>
<rect x="299.16" y="284.09" width="4.4" height="2.91" fill="#000"/>
<rect x="307.04" y="284.51" width="4.4" height="2.49" fill="#000"/>
<line x1="309.24" y1="282.01" x2="309.24" y2="284.51" stroke="#111" stroke-width="1.0"/>
<line x1="307.48" y1="282.11" x2="311" y2="282.11" stroke="#111" stroke-width="1.3"/>
<rect x="314.92" y="277.02" width="4.4" height="9.98" fill="#000"/>
<rect x="322.8" y="266.22" width="4.4" height="20.78" fill="#000"/>
<rect x="330.68" y="262.48" width="4.4" height="24.52" fill="#000"/>
<line x1="332.88" y1="253.25" x2="332.88" y2="262.48" stroke="#111" stroke-width="1.0"/>
<line x1="331.12" y1="253.35" x2="334.64" y2="253.35" stroke="#111" stroke-width="1.3"/>
<text transform="translate(130.52,289.2) rotate(-90)" font-size="7.0" text-anchor="end" fill="#111">CEL</text>
<text transform="translate(138.4,289.2) rotate(-90)" font-size="7.0" text-anchor="end" fill="#111">AAS</text>
<text transform="translate(146.28,289.2) rotate(-90)" font-size="7.0" text-anchor="end" fill="#111">AHT</text>
<text transform="translate(154.16,289.2) rotate(-90)" font-size="7.0" text-anchor="end" fill="#111">CVV</text>
<text transform="translate(162.04,289.2) rotate(-90)" font-size="7.0" text-anchor="end" fill="#111">OMR</text>
<text transform="translate(169.92,289.2) rotate(-90)" font-size="7.0" text-anchor="end" fill="#111">FAQ</text>
<text transform="translate(177.8,289.2) rotate(-90)" font-size="7.0" text-anchor="end" fill="#111">FRQ</text>
<text transform="translate(185.68,289.2) rotate(-90)" font-size="7.0" text-anchor="end" fill="#111">GGT</text>
<text transform="translate(193.56,289.2) rotate(-90)" font-size="7.0" text-anchor="end" fill="#111">JLX</text>
<text transform="translate(201.44,289.2) rotate(-90)" font-size="7.0" text-anchor="end" fill="#111">JPF</text>
<text transform="translate(209.32,289.2) rotate(-90)" font-size="7.0" text-anchor="end" fill="#111">LMB</text>
<text transform="translate(217.2,289.2) rotate(-90)" font-size="7.0" text-anchor="end" fill="#111">MBX</text>
<text transform="translate(225.08,289.2) rotate(-90)" font-size="7.0" text-anchor="end" fill="#111">NGI</text>
<text transform="translate(232.96,289.2) rotate(-90)" font-size="7.0" text-anchor="end" fill="#111">RSW</text>
<text transform="translate(240.84,289.2) rotate(-90)" font-size="7.0" text-anchor="end" fill="#111">ZIL</text>
<text transform="translate(248.72,289.2) rotate(-90)" font-size="7.0" text-anchor="end" fill="#111">ESK</text>
<text transform="translate(256.6,289.2) rotate(-90)" font-size="7.0" text-anchor="end" fill="#111">LSR</text>
<text transform="translate(264.48,289.2) rotate(-90)" font-size="7.0" text-anchor="end" fill="#111">EBM</text>
<text transform="translate(272.36,289.2) rotate(-90)" font-size="7.0" text-anchor="end" fill="#111">CSV</text>
<text transform="translate(280.24,289.2) rotate(-90)" font-size="7.0" text-anchor="end" fill="#111">TSJ</text>
<text transform="translate(288.12,289.2) rotate(-90)" font-size="7.0" text-anchor="end" fill="#111">IZA</text>
<text transform="translate(296,289.2) rotate(-90)" font-size="7.0" text-anchor="end" fill="#111">EIR</text>
<text transform="translate(303.88,289.2) rotate(-90)" font-size="7.0" text-anchor="end" fill="#111">LAJ</text>
<text transform="translate(311.76,289.2) rotate(-90)" font-size="7.0" text-anchor="end" fill="#111">MHX</text>
<text transform="translate(319.64,289.2) rotate(-90)" font-size="7.0" text-anchor="end" fill="#111">TIS</text>
<text transform="translate(327.52,289.2) rotate(-90)" font-size="7.0" text-anchor="end" fill="#111">CODI</text>
<text transform="translate(335.4,289.2) rotate(-90)" font-size="7.0" text-anchor="end" fill="#111">pept</text>
<text x="159.5" y="225.5" font-size="7.0" text-anchor="middle" fill="#111">A2</text>
<text x="198.8" y="230.5" font-size="7.0" text-anchor="middle" fill="#111">A2</text>
<text x="269.5" y="248" font-size="7.0" text-anchor="middle" fill="#111">A2</text>
<text x="285.3" y="268" font-size="7.0" text-anchor="middle" fill="#111">A2</text>
<text x="323.5" y="263" font-size="7.0" text-anchor="middle" fill="#111">A2</text>
<text x="190.5" y="223" font-size="7.15" text-anchor="start" fill="#111">EBV- BRLF1 / HLA-A3 clone 19</text>
<line x1="365" y1="220.75" x2="365" y2="288" stroke="#111" stroke-width="0.9"/>
<line x1="362.8" y1="287.5" x2="365" y2="287.5" stroke="#111" stroke-width="0.8"/>
<text x="361.8" y="289.88" font-size="6.6" text-anchor="end" fill="#111">0</text>
<line x1="362.8" y1="274.25" x2="365" y2="274.25" stroke="#111" stroke-width="0.8"/>
<text x="361.8" y="276.63" font-size="6.6" text-anchor="end" fill="#111">50</text>
<line x1="362.8" y1="261" x2="365" y2="261" stroke="#111" stroke-width="0.8"/>
<text x="361.8" y="263.38" font-size="6.6" text-anchor="end" fill="#111">100</text>
<line x1="362.8" y1="247.75" x2="365" y2="247.75" stroke="#111" stroke-width="0.8"/>
<text x="361.8" y="250.13" font-size="6.6" text-anchor="end" fill="#111">150</text>
<line x1="362.8" y1="234.5" x2="365" y2="234.5" stroke="#111" stroke-width="0.8"/>
<text x="361.8" y="236.88" font-size="6.6" text-anchor="end" fill="#111">200</text>
<line x1="362.8" y1="221.25" x2="365" y2="221.25" stroke="#111" stroke-width="0.8"/>
<text x="361.8" y="223.63" font-size="6.6" text-anchor="end" fill="#111">250</text>
<line x1="365" y1="287.5" x2="440" y2="287.5" stroke="#111" stroke-width="0.9"/>
<line x1="380" y1="287.5" x2="380" y2="289.5" stroke="#111" stroke-width="0.8"/>
<line x1="395" y1="287.5" x2="395" y2="289.5" stroke="#111" stroke-width="0.8"/>
<line x1="410" y1="287.5" x2="410" y2="289.5" stroke="#111" stroke-width="0.8"/>
<line x1="425" y1="287.5" x2="425" y2="289.5" stroke="#111" stroke-width="0.8"/>
<line x1="440" y1="287.5" x2="440" y2="289.5" stroke="#111" stroke-width="0.8"/>
<rect x="413.75" y="273.72" width="7.5" height="13.78" fill="#000"/>
<line x1="417.5" y1="270.81" x2="417.5" y2="273.72" stroke="#111" stroke-width="1.0"/>
<line x1="414.5" y1="270.91" x2="420.5" y2="270.91" stroke="#111" stroke-width="1.3"/>
<rect x="428.75" y="233.18" width="7.5" height="54.33" fill="#000"/>
<line x1="432.5" y1="230.53" x2="432.5" y2="233.18" stroke="#111" stroke-width="1.0"/>
<line x1="429.5" y1="230.62" x2="435.5" y2="230.62" stroke="#111" stroke-width="1.3"/>
<text transform="translate(375.02,289.7) rotate(-90)" font-size="7.0" text-anchor="end" fill="#111">K562</text>
<text transform="translate(390.02,289.7) rotate(-90)" font-size="7.0" text-anchor="end" fill="#111">K562+A2</text>
<text transform="translate(405.02,289.7) rotate(-90)" font-size="7.0" text-anchor="end" fill="#111">A2 neg</text>
<text transform="translate(420.02,289.7) rotate(-90)" font-size="7.0" text-anchor="end" fill="#111">A2 trans</text>
<text transform="translate(435.02,289.7) rotate(-90)" font-size="7.0" text-anchor="end" fill="#111">A2+ LCL</text>
<line x1="462.9" y1="216.8" x2="462.9" y2="288.7" stroke="#111" stroke-width="0.9"/>
<line x1="460.7" y1="288.2" x2="462.9" y2="288.2" stroke="#111" stroke-width="0.8"/>
<text x="459.7" y="290.58" font-size="6.6" text-anchor="end" fill="#111">0</text>
<line x1="460.7" y1="270.48" x2="462.9" y2="270.48" stroke="#111" stroke-width="0.8"/>
<text x="459.7" y="272.85" font-size="6.6" text-anchor="end" fill="#111">200</text>
<line x1="460.7" y1="252.75" x2="462.9" y2="252.75" stroke="#111" stroke-width="0.8"/>
<text x="459.7" y="255.13" font-size="6.6" text-anchor="end" fill="#111">400</text>
<line x1="460.7" y1="235.03" x2="462.9" y2="235.03" stroke="#111" stroke-width="0.8"/>
<text x="459.7" y="237.4" font-size="6.6" text-anchor="end" fill="#111">600</text>
<line x1="460.7" y1="217.3" x2="462.9" y2="217.3" stroke="#111" stroke-width="0.8"/>
<text x="459.7" y="219.68" font-size="6.6" text-anchor="end" fill="#111">800</text>
<line x1="462.9" y1="288.2" x2="517.4" y2="288.2" stroke="#111" stroke-width="0.9"/>
<line x1="481.1" y1="288.2" x2="481.1" y2="290.2" stroke="#111" stroke-width="0.8"/>
<line x1="499.3" y1="288.2" x2="499.3" y2="290.2" stroke="#111" stroke-width="0.8"/>
<line x1="517.5" y1="288.2" x2="517.5" y2="290.2" stroke="#111" stroke-width="0.8"/>
<rect x="468" y="229.71" width="8" height="58.49" fill="#000"/>
<line x1="472" y1="229.26" x2="472" y2="229.71" stroke="#111" stroke-width="1.0"/>
<line x1="468.8" y1="229.36" x2="475.2" y2="229.36" stroke="#111" stroke-width="1.3"/>
<rect x="486.2" y="287.2" width="8" height="1" fill="#000"/>
<rect x="504.4" y="250.53" width="8" height="37.67" fill="#000"/>
<line x1="508.4" y1="247.88" x2="508.4" y2="250.53" stroke="#111" stroke-width="1.0"/>
<line x1="505.2" y1="247.98" x2="511.6" y2="247.98" stroke="#111" stroke-width="1.3"/>
<text transform="translate(474.52,290.4) rotate(-90)" font-size="7.0" text-anchor="end" fill="#111">A2+ PHA</text>
<text transform="translate(492.72,290.4) rotate(-90)" font-size="7.0" text-anchor="end" fill="#111">A2neg LCL</text>
<text transform="translate(510.92,290.4) rotate(-90)" font-size="7.0" text-anchor="end" fill="#111">A2+ LCL</text>
<line x1="125.8" y1="327.5" x2="125.8" y2="395.5" stroke="#111" stroke-width="0.9"/>
<line x1="123.6" y1="395" x2="125.8" y2="395" stroke="#111" stroke-width="0.8"/>
<text x="122.6" y="397.38" font-size="6.6" text-anchor="end" fill="#111">0</text>
<line x1="123.6" y1="381.6" x2="125.8" y2="381.6" stroke="#111" stroke-width="0.8"/>
<text x="122.6" y="383.98" font-size="6.6" text-anchor="end" fill="#111">200</text>
<line x1="123.6" y1="368.2" x2="125.8" y2="368.2" stroke="#111" stroke-width="0.8"/>
<text x="122.6" y="370.58" font-size="6.6" text-anchor="end" fill="#111">400</text>
<line x1="123.6" y1="354.8" x2="125.8" y2="354.8" stroke="#111" stroke-width="0.8"/>
<text x="122.6" y="357.18" font-size="6.6" text-anchor="end" fill="#111">600</text>
<line x1="123.6" y1="341.4" x2="125.8" y2="341.4" stroke="#111" stroke-width="0.8"/>
<text x="122.6" y="343.78" font-size="6.6" text-anchor="end" fill="#111">800</text>
<line x1="123.6" y1="328" x2="125.8" y2="328" stroke="#111" stroke-width="0.8"/>
<text x="122.6" y="330.38" font-size="6.6" text-anchor="end" fill="#111">1000</text>
<line x1="125.8" y1="395" x2="338.5" y2="395" stroke="#111" stroke-width="0.9"/>
<line x1="137.03" y1="395" x2="137.03" y2="397" stroke="#111" stroke-width="0.8"/>
<line x1="148.28" y1="395" x2="148.28" y2="397" stroke="#111" stroke-width="0.8"/>
<line x1="159.53" y1="395" x2="159.53" y2="397" stroke="#111" stroke-width="0.8"/>
<line x1="170.78" y1="395" x2="170.78" y2="397" stroke="#111" stroke-width="0.8"/>
<line x1="182.03" y1="395" x2="182.03" y2="397" stroke="#111" stroke-width="0.8"/>
<line x1="193.28" y1="395" x2="193.28" y2="397" stroke="#111" stroke-width="0.8"/>
<line x1="204.53" y1="395" x2="204.53" y2="397" stroke="#111" stroke-width="0.8"/>
<line x1="215.78" y1="395" x2="215.78" y2="397" stroke="#111" stroke-width="0.8"/>
<line x1="227.03" y1="395" x2="227.03" y2="397" stroke="#111" stroke-width="0.8"/>
<line x1="238.28" y1="395" x2="238.28" y2="397" stroke="#111" stroke-width="0.8"/>
<line x1="249.53" y1="395" x2="249.53" y2="397" stroke="#111" stroke-width="0.8"/>
<line x1="260.77" y1="395" x2="260.77" y2="397" stroke="#111" stroke-width="0.8"/>
<line x1="272.02" y1="395" x2="272.02" y2="397" stroke="#111" stroke-width="0.8"/>
<line x1="283.27" y1="395" x2="283.27" y2="397" stroke="#111" stroke-width="0.8"/>
<line x1="294.52" y1="395" x2="294.52" y2="397" stroke="#111" stroke-width="0.8"/>
<line x1="305.77" y1="395" x2="305.77" y2="397" stroke="#111" stroke-width="0.8"/>
<line x1="317.02" y1="395" x2="317.02" y2="397" stroke="#111" stroke-width="0.8"/>
<line x1="328.27" y1="395" x2="328.27" y2="397" stroke="#111" stroke-width="0.8"/>
<rect x="128.65" y="362.17" width="5.5" height="32.83" fill="#000"/>
<line x1="131.4" y1="359.49" x2="131.4" y2="362.17" stroke="#111" stroke-width="1.0"/>
<line x1="129.2" y1="359.59" x2="133.6" y2="359.59" stroke="#111" stroke-width="1.3"/>
<rect x="139.9" y="394" width="5.5" height="1" fill="#000"/>
<rect x="151.15" y="394" width="5.5" height="1" fill="#000"/>
<rect x="162.4" y="394" width="5.5" height="1" fill="#000"/>
<rect x="173.65" y="394" width="5.5" height="1" fill="#000"/>
<rect x="184.9" y="394" width="5.5" height="1" fill="#000"/>
<rect x="196.15" y="394" width="5.5" height="1" fill="#000"/>
<rect x="207.4" y="356.14" width="5.5" height="38.86" fill="#000"/>
<line x1="210.15" y1="354.8" x2="210.15" y2="356.14" stroke="#111" stroke-width="1.0"/>
<line x1="207.95" y1="354.9" x2="212.35" y2="354.9" stroke="#111" stroke-width="1.3"/>
<rect x="218.65" y="394" width="5.5" height="1" fill="#000"/>
<rect x="229.9" y="368.2" width="5.5" height="26.8" fill="#000"/>
<line x1="232.65" y1="361.5" x2="232.65" y2="368.2" stroke="#111" stroke-width="1.0"/>
<line x1="230.45" y1="361.6" x2="234.85" y2="361.6" stroke="#111" stroke-width="1.3"/>
<rect x="241.15" y="394" width="5.5" height="1" fill="#000"/>
<rect x="252.4" y="394" width="5.5" height="1" fill="#000"/>
<rect x="263.65" y="394" width="5.5" height="1" fill="#000"/>
<rect x="274.9" y="394" width="5.5" height="1" fill="#000"/>
<rect x="286.15" y="394" width="5.5" height="1" fill="#000"/>
<rect x="297.4" y="394" width="5.5" height="1" fill="#000"/>
<rect x="308.65" y="394" width="5.5" height="1" fill="#000"/>
<rect x="319.9" y="394" width="5.5" height="1" fill="#000"/>
<rect x="331.15" y="343.41" width="5.5" height="51.59" fill="#000"/>
<text transform="translate(133.92,397.2) rotate(-90)" font-size="7.0" text-anchor="end" fill="#111">AHT</text>
<text transform="translate(145.17,397.2) rotate(-90)" font-size="7.0" text-anchor="end" fill="#111">ABV</text>
<text transform="translate(156.42,397.2) rotate(-90)" font-size="7.0" text-anchor="end" fill="#111">RSB</text>
<text transform="translate(167.67,397.2) rotate(-90)" font-size="7.0" text-anchor="end" fill="#111">AKB</text>
<text transform="translate(178.92,397.2) rotate(-90)" font-size="7.0" text-anchor="end" fill="#111">FAQ</text>
<text transform="translate(190.17,397.2) rotate(-90)" font-size="7.0" text-anchor="end" fill="#111">GGT</text>
<text transform="translate(201.42,397.2) rotate(-90)" font-size="7.0" text-anchor="end" fill="#111">PSJ</text>
<text transform="translate(212.67,397.2) rotate(-90)" font-size="7.0" text-anchor="end" fill="#111">LMB</text>
<text transform="translate(223.92,397.2) rotate(-90)" font-size="7.0" text-anchor="end" fill="#111">MBX</text>
<text transform="translate(235.17,397.2) rotate(-90)" font-size="7.0" text-anchor="end" fill="#111">NGI</text>
<text transform="translate(246.42,397.2) rotate(-90)" font-size="7.0" text-anchor="end" fill="#111">MWX</text>
<text transform="translate(257.67,397.2) rotate(-90)" font-size="7.0" text-anchor="end" fill="#111">LSR</text>
<text transform="translate(268.92,397.2) rotate(-90)" font-size="7.0" text-anchor="end" fill="#111">EBM</text>
<text transform="translate(280.17,397.2) rotate(-90)" font-size="7.0" text-anchor="end" fill="#111">IZA</text>
<text transform="translate(291.42,397.2) rotate(-90)" font-size="7.0" text-anchor="end" fill="#111">MHX</text>
<text transform="translate(302.67,397.2) rotate(-90)" font-size="7.0" text-anchor="end" fill="#111">NGZ</text>
<text transform="translate(313.92,397.2) rotate(-90)" font-size="7.0" text-anchor="end" fill="#111">WOH</text>
<text transform="translate(325.17,397.2) rotate(-90)" font-size="7.0" text-anchor="end" fill="#111">FBV</text>
<text transform="translate(336.42,397.2) rotate(-90)" font-size="7.0" text-anchor="end" fill="#111">pept</text>
<text x="133.8" y="353" font-size="7.0" text-anchor="middle" fill="#111">DR8</text>
<text x="206.3" y="350.5" font-size="7.0" text-anchor="middle" fill="#111">DR8</text>
<text x="234" y="359.3" font-size="7.0" text-anchor="middle" fill="#111">DR8</text>
<text x="190" y="332" font-size="7.15" text-anchor="start" fill="#111">CMV-pp65 / HLA-B7 clone 11</text>
<line x1="365" y1="327.5" x2="365" y2="395" stroke="#111" stroke-width="0.9"/>
<line x1="362.8" y1="394.5" x2="365" y2="394.5" stroke="#111" stroke-width="0.8"/>
<text x="361.8" y="396.88" font-size="6.6" text-anchor="end" fill="#111">0</text>
<line x1="362.8" y1="377.88" x2="365" y2="377.88" stroke="#111" stroke-width="0.8"/>
<text x="361.8" y="380.25" font-size="6.6" text-anchor="end" fill="#111">200</text>
<line x1="362.8" y1="361.25" x2="365" y2="361.25" stroke="#111" stroke-width="0.8"/>
<text x="361.8" y="363.63" font-size="6.6" text-anchor="end" fill="#111">400</text>
<line x1="362.8" y1="344.62" x2="365" y2="344.62" stroke="#111" stroke-width="0.8"/>
<text x="361.8" y="347" font-size="6.6" text-anchor="end" fill="#111">600</text>
<line x1="362.8" y1="328" x2="365" y2="328" stroke="#111" stroke-width="0.8"/>
<text x="361.8" y="330.38" font-size="6.6" text-anchor="end" fill="#111">800</text>
<line x1="365" y1="394.5" x2="440" y2="394.5" stroke="#111" stroke-width="0.9"/>
<line x1="365.8" y1="394.5" x2="365.8" y2="396.5" stroke="#111" stroke-width="0.8"/>
<line x1="378.2" y1="394.5" x2="378.2" y2="396.5" stroke="#111" stroke-width="0.8"/>
<line x1="390.6" y1="394.5" x2="390.6" y2="396.5" stroke="#111" stroke-width="0.8"/>
<line x1="403" y1="394.5" x2="403" y2="396.5" stroke="#111" stroke-width="0.8"/>
<line x1="415.4" y1="394.5" x2="415.4" y2="396.5" stroke="#111" stroke-width="0.8"/>
<line x1="427.8" y1="394.5" x2="427.8" y2="396.5" stroke="#111" stroke-width="0.8"/>
<line x1="440.2" y1="394.5" x2="440.2" y2="396.5" stroke="#111" stroke-width="0.8"/>
<rect x="368.75" y="341.22" width="6.5" height="53.28" fill="#000"/>
<rect x="381.15" y="343.3" width="6.5" height="51.21" fill="#000"/>
<rect x="393.55" y="393.5" width="6.5" height="1" fill="#000"/>
<rect x="405.95" y="393.5" width="6.5" height="1" fill="#000"/>
<rect x="418.35" y="339.97" width="6.5" height="54.53" fill="#000"/>
<rect x="430.75" y="341.96" width="6.5" height="52.54" fill="#000"/>
<line x1="434" y1="340.47" x2="434" y2="341.96" stroke="#111" stroke-width="1.0"/>
<line x1="431.4" y1="340.57" x2="436.6" y2="340.57" stroke="#111" stroke-width="1.3"/>
<text transform="translate(374.52,399) rotate(-90)" font-size="7.0" text-anchor="end" fill="#111">no block</text>
<text transform="translate(386.92,399) rotate(-90)" font-size="7.0" text-anchor="end" fill="#111">class I</text>
<text transform="translate(399.32,399) rotate(-90)" font-size="7.0" text-anchor="end" fill="#111">class II</text>
<text transform="translate(411.72,399) rotate(-90)" font-size="7.0" text-anchor="end" fill="#111">DR</text>
<text transform="translate(424.12,399) rotate(-90)" font-size="7.0" text-anchor="end" fill="#111">DQ</text>
<text transform="translate(436.52,399) rotate(-90)" font-size="7.0" text-anchor="end" fill="#111">DP</text>
<text x="372.5" y="334.5" font-size="7.3" text-anchor="start" fill="#111">HLA-DR8+ EBV-LCL</text>
<line x1="125.8" y1="435.5" x2="125.8" y2="502.25" stroke="#111" stroke-width="0.9"/>
<line x1="123.6" y1="501.75" x2="125.8" y2="501.75" stroke="#111" stroke-width="0.8"/>
<text x="122.6" y="504.13" font-size="6.6" text-anchor="end" fill="#111">0</text>
<line x1="123.6" y1="485.31" x2="125.8" y2="485.31" stroke="#111" stroke-width="0.8"/>
<text x="122.6" y="487.69" font-size="6.6" text-anchor="end" fill="#111">200</text>
<line x1="123.6" y1="468.88" x2="125.8" y2="468.88" stroke="#111" stroke-width="0.8"/>
<text x="122.6" y="471.25" font-size="6.6" text-anchor="end" fill="#111">400</text>
<line x1="123.6" y1="452.44" x2="125.8" y2="452.44" stroke="#111" stroke-width="0.8"/>
<text x="122.6" y="454.81" font-size="6.6" text-anchor="end" fill="#111">600</text>
<line x1="123.6" y1="436" x2="125.8" y2="436" stroke="#111" stroke-width="0.8"/>
<text x="122.6" y="438.38" font-size="6.6" text-anchor="end" fill="#111">800</text>
<line x1="125.8" y1="501.75" x2="338" y2="501.75" stroke="#111" stroke-width="0.9"/>
<line x1="139.72" y1="501.75" x2="139.72" y2="503.75" stroke="#111" stroke-width="0.8"/>
<line x1="154.97" y1="501.75" x2="154.97" y2="503.75" stroke="#111" stroke-width="0.8"/>
<line x1="170.22" y1="501.75" x2="170.22" y2="503.75" stroke="#111" stroke-width="0.8"/>
<line x1="185.47" y1="501.75" x2="185.47" y2="503.75" stroke="#111" stroke-width="0.8"/>
<line x1="200.72" y1="501.75" x2="200.72" y2="503.75" stroke="#111" stroke-width="0.8"/>
<line x1="215.97" y1="501.75" x2="215.97" y2="503.75" stroke="#111" stroke-width="0.8"/>
<line x1="231.22" y1="501.75" x2="231.22" y2="503.75" stroke="#111" stroke-width="0.8"/>
<line x1="246.47" y1="501.75" x2="246.47" y2="503.75" stroke="#111" stroke-width="0.8"/>
<line x1="261.73" y1="501.75" x2="261.73" y2="503.75" stroke="#111" stroke-width="0.8"/>
<line x1="276.98" y1="501.75" x2="276.98" y2="503.75" stroke="#111" stroke-width="0.8"/>
<line x1="292.23" y1="501.75" x2="292.23" y2="503.75" stroke="#111" stroke-width="0.8"/>
<line x1="307.48" y1="501.75" x2="307.48" y2="503.75" stroke="#111" stroke-width="0.8"/>
<line x1="322.73" y1="501.75" x2="322.73" y2="503.75" stroke="#111" stroke-width="0.8"/>
<line x1="337.98" y1="501.75" x2="337.98" y2="503.75" stroke="#111" stroke-width="0.8"/>
<rect x="128.75" y="466.25" width="6.7" height="35.5" fill="#000"/>
<line x1="132.1" y1="465.01" x2="132.1" y2="466.25" stroke="#111" stroke-width="1.0"/>
<line x1="129.42" y1="465.11" x2="134.78" y2="465.11" stroke="#111" stroke-width="1.3"/>
<rect x="159.25" y="466.25" width="6.7" height="35.5" fill="#000"/>
<line x1="162.6" y1="460.74" x2="162.6" y2="466.25" stroke="#111" stroke-width="1.0"/>
<line x1="159.92" y1="460.84" x2="165.28" y2="460.84" stroke="#111" stroke-width="1.3"/>
<rect x="311.75" y="470.03" width="6.7" height="31.72" fill="#000"/>
<rect x="327" y="448" width="6.7" height="53.75" fill="#000"/>
<text transform="translate(134.32,504.8) rotate(-90)" font-size="7.0" text-anchor="end" fill="#111">AHT</text>
<text transform="translate(149.39,504.8) rotate(-90)" font-size="7.0" text-anchor="end" fill="#111">ABV</text>
<text transform="translate(164.46,504.8) rotate(-90)" font-size="7.0" text-anchor="end" fill="#111">RSB</text>
<text transform="translate(179.53,504.8) rotate(-90)" font-size="7.0" text-anchor="end" fill="#111">AKB</text>
<text transform="translate(194.6,504.8) rotate(-90)" font-size="7.0" text-anchor="end" fill="#111">FAQ</text>
<text transform="translate(209.67,504.8) rotate(-90)" font-size="7.0" text-anchor="end" fill="#111">GGT</text>
<text transform="translate(224.74,504.8) rotate(-90)" font-size="7.0" text-anchor="end" fill="#111">MBX</text>
<text transform="translate(239.81,504.8) rotate(-90)" font-size="7.0" text-anchor="end" fill="#111">MWX</text>
<text transform="translate(254.88,504.8) rotate(-90)" font-size="7.0" text-anchor="end" fill="#111">LSR</text>
<text transform="translate(269.95,504.8) rotate(-90)" font-size="7.0" text-anchor="end" fill="#111">EBM</text>
<text transform="translate(285.02,504.8) rotate(-90)" font-size="7.0" text-anchor="end" fill="#111">MHX</text>
<text transform="translate(300.09,504.8) rotate(-90)" font-size="7.0" text-anchor="end" fill="#111">NGZ</text>
<text transform="translate(315.16,504.8) rotate(-90)" font-size="7.0" text-anchor="end" fill="#111">FBV</text>
<text transform="translate(330.23,504.8) rotate(-90)" font-size="7.0" text-anchor="end" fill="#111">pept</text>
<rect x="147.8" y="501.75" width="1.6" height="2.6" fill="#222"/>
<rect x="176.1" y="501.75" width="1.6" height="2.6" fill="#222"/>
<rect x="191.7" y="501.75" width="1.6" height="2.6" fill="#222"/>
<rect x="207.7" y="501.75" width="1.6" height="2.6" fill="#222"/>
<rect x="221.4" y="501.75" width="1.6" height="2.6" fill="#222"/>
<rect x="235.2" y="501.75" width="1.6" height="2.6" fill="#222"/>
<rect x="249.9" y="501.75" width="1.6" height="2.6" fill="#222"/>
<rect x="264.7" y="501.75" width="1.6" height="2.6" fill="#222"/>
<rect x="299.2" y="501.75" width="1.6" height="2.6" fill="#222"/>
<path d="M282.9,501.8 L286.3,501.8 L284.6,505.5 Z" fill="#222"/>
<text x="137.5" y="462.5" font-size="7.0" text-anchor="middle" fill="#111">B5501</text>
<text x="166.5" y="455" font-size="7.0" text-anchor="middle" fill="#111">B4402</text>
<text x="312.5" y="462.5" font-size="7.0" text-anchor="middle" fill="#111">B5501</text>
<text x="189.5" y="442" font-size="7.15" text-anchor="start" fill="#111">EBV-EBNA3A/HLA-B8 clone 9</text>
<line x1="366.25" y1="435" x2="366.25" y2="502.5" stroke="#111" stroke-width="0.9"/>
<line x1="364.05" y1="502" x2="366.25" y2="502" stroke="#111" stroke-width="0.8"/>
<text x="363.05" y="504.38" font-size="6.6" text-anchor="end" fill="#111">0</text>
<line x1="364.05" y1="488.7" x2="366.25" y2="488.7" stroke="#111" stroke-width="0.8"/>
<text x="363.05" y="491.08" font-size="6.6" text-anchor="end" fill="#111">200</text>
<line x1="364.05" y1="475.4" x2="366.25" y2="475.4" stroke="#111" stroke-width="0.8"/>
<text x="363.05" y="477.78" font-size="6.6" text-anchor="end" fill="#111">400</text>
<line x1="364.05" y1="462.1" x2="366.25" y2="462.1" stroke="#111" stroke-width="0.8"/>
<text x="363.05" y="464.48" font-size="6.6" text-anchor="end" fill="#111">600</text>
<line x1="364.05" y1="448.8" x2="366.25" y2="448.8" stroke="#111" stroke-width="0.8"/>
<text x="363.05" y="451.18" font-size="6.6" text-anchor="end" fill="#111">800</text>
<line x1="364.05" y1="435.5" x2="366.25" y2="435.5" stroke="#111" stroke-width="0.8"/>
<text x="363.05" y="437.88" font-size="6.6" text-anchor="end" fill="#111">1000</text>
<line x1="366.25" y1="502" x2="446.25" y2="502" stroke="#111" stroke-width="0.9"/>
<line x1="375.9" y1="502" x2="375.9" y2="504" stroke="#111" stroke-width="0.8"/>
<line x1="386.5" y1="502" x2="386.5" y2="504" stroke="#111" stroke-width="0.8"/>
<line x1="397.1" y1="502" x2="397.1" y2="504" stroke="#111" stroke-width="0.8"/>
<line x1="407.7" y1="502" x2="407.7" y2="504" stroke="#111" stroke-width="0.8"/>
<line x1="418.3" y1="502" x2="418.3" y2="504" stroke="#111" stroke-width="0.8"/>
<line x1="428.9" y1="502" x2="428.9" y2="504" stroke="#111" stroke-width="0.8"/>
<line x1="439.5" y1="502" x2="439.5" y2="504" stroke="#111" stroke-width="0.8"/>
<rect x="367.7" y="501" width="5.8" height="1" fill="#000"/>
<rect x="378.3" y="473.4" width="5.8" height="28.6" fill="#000"/>
<line x1="381.2" y1="466.75" x2="381.2" y2="473.4" stroke="#111" stroke-width="1.0"/>
<line x1="378.88" y1="466.86" x2="383.52" y2="466.86" stroke="#111" stroke-width="1.3"/>
<rect x="388.9" y="474.74" width="5.8" height="27.27" fill="#000"/>
<line x1="391.8" y1="472.74" x2="391.8" y2="474.74" stroke="#111" stroke-width="1.0"/>
<line x1="389.48" y1="472.84" x2="394.12" y2="472.84" stroke="#111" stroke-width="1.3"/>
<rect x="399.5" y="501" width="5.8" height="1" fill="#000"/>
<rect x="410.1" y="466.09" width="5.8" height="35.91" fill="#000"/>
<line x1="413" y1="465.43" x2="413" y2="466.09" stroke="#111" stroke-width="1.0"/>
<line x1="410.68" y1="465.53" x2="415.32" y2="465.53" stroke="#111" stroke-width="1.3"/>
<rect x="420.7" y="457.44" width="5.8" height="44.55" fill="#000"/>
<line x1="423.6" y1="456.78" x2="423.6" y2="457.44" stroke="#111" stroke-width="1.0"/>
<line x1="421.28" y1="456.88" x2="425.92" y2="456.88" stroke="#111" stroke-width="1.3"/>
<rect x="431.3" y="448.13" width="5.8" height="53.87" fill="#000"/>
<line x1="434.2" y1="446.81" x2="434.2" y2="448.13" stroke="#111" stroke-width="1.0"/>
<line x1="431.88" y1="446.91" x2="436.52" y2="446.91" stroke="#111" stroke-width="1.3"/>
<text transform="translate(373.12,505) rotate(-90)" font-size="7.0" text-anchor="end" fill="#111">neg LCL</text>
<text transform="translate(383.72,505) rotate(-90)" font-size="7.0" text-anchor="end" fill="#111">B4402+ LCL</text>
<text transform="translate(394.32,505) rotate(-90)" font-size="7.0" text-anchor="end" fill="#111">B5501+ LCL</text>
<text transform="translate(404.92,505) rotate(-90)" font-size="7.0" text-anchor="end" fill="#111">K562</text>
<text transform="translate(415.52,505) rotate(-90)" font-size="7.0" text-anchor="end" fill="#111">K562+B4402</text>
<text transform="translate(426.12,505) rotate(-90)" font-size="7.0" text-anchor="end" fill="#111">K562+B5501</text>
<text transform="translate(436.72,505) rotate(-90)" font-size="7.0" text-anchor="end" fill="#111"></text>
<text transform="translate(436.22,505) rotate(-90)" font-size="7.0" text-anchor="end" fill="#111">K562+B8</text>
<text transform="translate(445.02,508.5) rotate(-90)" font-size="7.0" text-anchor="end" fill="#111">+pept</text>
<line x1="126.25" y1="542" x2="126.25" y2="609.25" stroke="#111" stroke-width="0.9"/>
<line x1="124.05" y1="608.75" x2="126.25" y2="608.75" stroke="#111" stroke-width="0.8"/>
<text x="123.05" y="611.13" font-size="6.6" text-anchor="end" fill="#111">0</text>
<line x1="124.05" y1="595.5" x2="126.25" y2="595.5" stroke="#111" stroke-width="0.8"/>
<text x="123.05" y="597.88" font-size="6.6" text-anchor="end" fill="#111">200</text>
<line x1="124.05" y1="582.25" x2="126.25" y2="582.25" stroke="#111" stroke-width="0.8"/>
<text x="123.05" y="584.63" font-size="6.6" text-anchor="end" fill="#111">400</text>
<line x1="124.05" y1="569" x2="126.25" y2="569" stroke="#111" stroke-width="0.8"/>
<text x="123.05" y="571.38" font-size="6.6" text-anchor="end" fill="#111">600</text>
<line x1="124.05" y1="555.75" x2="126.25" y2="555.75" stroke="#111" stroke-width="0.8"/>
<text x="123.05" y="558.13" font-size="6.6" text-anchor="end" fill="#111">800</text>
<line x1="124.05" y1="542.5" x2="126.25" y2="542.5" stroke="#111" stroke-width="0.8"/>
<text x="123.05" y="544.88" font-size="6.6" text-anchor="end" fill="#111">1000</text>
<line x1="126.25" y1="608.75" x2="338.5" y2="608.75" stroke="#111" stroke-width="0.9"/>
<line x1="137.3" y1="608.75" x2="137.3" y2="610.75" stroke="#111" stroke-width="0.8"/>
<line x1="148.5" y1="608.75" x2="148.5" y2="610.75" stroke="#111" stroke-width="0.8"/>
<line x1="159.7" y1="608.75" x2="159.7" y2="610.75" stroke="#111" stroke-width="0.8"/>
<line x1="170.9" y1="608.75" x2="170.9" y2="610.75" stroke="#111" stroke-width="0.8"/>
<line x1="182.1" y1="608.75" x2="182.1" y2="610.75" stroke="#111" stroke-width="0.8"/>
<line x1="193.3" y1="608.75" x2="193.3" y2="610.75" stroke="#111" stroke-width="0.8"/>
<line x1="204.5" y1="608.75" x2="204.5" y2="610.75" stroke="#111" stroke-width="0.8"/>
<line x1="215.7" y1="608.75" x2="215.7" y2="610.75" stroke="#111" stroke-width="0.8"/>
<line x1="226.9" y1="608.75" x2="226.9" y2="610.75" stroke="#111" stroke-width="0.8"/>
<line x1="238.1" y1="608.75" x2="238.1" y2="610.75" stroke="#111" stroke-width="0.8"/>
<line x1="249.3" y1="608.75" x2="249.3" y2="610.75" stroke="#111" stroke-width="0.8"/>
<line x1="260.5" y1="608.75" x2="260.5" y2="610.75" stroke="#111" stroke-width="0.8"/>
<line x1="271.7" y1="608.75" x2="271.7" y2="610.75" stroke="#111" stroke-width="0.8"/>
<line x1="282.9" y1="608.75" x2="282.9" y2="610.75" stroke="#111" stroke-width="0.8"/>
<line x1="294.1" y1="608.75" x2="294.1" y2="610.75" stroke="#111" stroke-width="0.8"/>
<line x1="305.3" y1="608.75" x2="305.3" y2="610.75" stroke="#111" stroke-width="0.8"/>
<line x1="316.5" y1="608.75" x2="316.5" y2="610.75" stroke="#111" stroke-width="0.8"/>
<line x1="327.7" y1="608.75" x2="327.7" y2="610.75" stroke="#111" stroke-width="0.8"/>
<line x1="338.9" y1="608.75" x2="338.9" y2="610.75" stroke="#111" stroke-width="0.8"/>
<rect x="129.2" y="607.75" width="5" height="1" fill="#000"/>
<rect x="140.4" y="607.75" width="5" height="1" fill="#000"/>
<rect x="151.6" y="607.75" width="5" height="1" fill="#000"/>
<rect x="162.8" y="607.75" width="5" height="1" fill="#000"/>
<rect x="174" y="563.77" width="5" height="44.98" fill="#000"/>
<rect x="185.2" y="607.75" width="5" height="1" fill="#000"/>
<rect x="196.4" y="607.75" width="5" height="1" fill="#000"/>
<rect x="207.6" y="607.75" width="5" height="1" fill="#000"/>
<rect x="218.8" y="607.75" width="5" height="1" fill="#000"/>
<rect x="230" y="607.75" width="5" height="1" fill="#000"/>
<rect x="241.2" y="607.75" width="5" height="1" fill="#000"/>
<rect x="252.4" y="607.75" width="5" height="1" fill="#000"/>
<rect x="263.6" y="607.75" width="5" height="1" fill="#000"/>
<rect x="274.8" y="571.98" width="5" height="36.77" fill="#000"/>
<rect x="286" y="607.75" width="5" height="1" fill="#000"/>
<rect x="297.2" y="607.75" width="5" height="1" fill="#000"/>
<rect x="308.4" y="607.75" width="5" height="1" fill="#000"/>
<rect x="319.6" y="607.75" width="5" height="1" fill="#000"/>
<rect x="330.8" y="557.54" width="5" height="51.21" fill="#000"/>
<text transform="translate(134.22,610.95) rotate(-90)" font-size="7.0" text-anchor="end" fill="#111">AHT</text>
<text transform="translate(145.42,610.95) rotate(-90)" font-size="7.0" text-anchor="end" fill="#111">ABV</text>
<text transform="translate(156.62,610.95) rotate(-90)" font-size="7.0" text-anchor="end" fill="#111">RSB</text>
<text transform="translate(167.82,610.95) rotate(-90)" font-size="7.0" text-anchor="end" fill="#111">AKB</text>
<text transform="translate(179.02,610.95) rotate(-90)" font-size="7.0" text-anchor="end" fill="#111">FAQ</text>
<text transform="translate(190.22,610.95) rotate(-90)" font-size="7.0" text-anchor="end" fill="#111">GGT</text>
<text transform="translate(201.42,610.95) rotate(-90)" font-size="7.0" text-anchor="end" fill="#111">PSJ</text>
<text transform="translate(212.62,610.95) rotate(-90)" font-size="7.0" text-anchor="end" fill="#111">LMB</text>
<text transform="translate(223.82,610.95) rotate(-90)" font-size="7.0" text-anchor="end" fill="#111">MBX</text>
<text transform="translate(235.02,610.95) rotate(-90)" font-size="7.0" text-anchor="end" fill="#111">NGI</text>
<text transform="translate(246.22,610.95) rotate(-90)" font-size="7.0" text-anchor="end" fill="#111">MWX</text>
<text transform="translate(257.42,610.95) rotate(-90)" font-size="7.0" text-anchor="end" fill="#111">LSR</text>
<text transform="translate(268.62,610.95) rotate(-90)" font-size="7.0" text-anchor="end" fill="#111">EBM</text>
<text transform="translate(279.82,610.95) rotate(-90)" font-size="7.0" text-anchor="end" fill="#111">IZA</text>
<text transform="translate(291.02,610.95) rotate(-90)" font-size="7.0" text-anchor="end" fill="#111">MHX</text>
<text transform="translate(302.22,610.95) rotate(-90)" font-size="7.0" text-anchor="end" fill="#111">NGZ</text>
<text transform="translate(313.42,610.95) rotate(-90)" font-size="7.0" text-anchor="end" fill="#111">WOH</text>
<text transform="translate(324.62,610.95) rotate(-90)" font-size="7.0" text-anchor="end" fill="#111">FBV</text>
<text transform="translate(335.82,610.95) rotate(-90)" font-size="7.0" text-anchor="end" fill="#111">pept</text>
<text x="177.5" y="560" font-size="7.0" text-anchor="middle" fill="#111">DR13</text>
<text x="278.3" y="567" font-size="7.0" text-anchor="middle" fill="#111">DR13</text>
<text x="192" y="542" font-size="7.15" text-anchor="start" fill="#111">FLU-HA / HLA-DR4 clone 5</text>
<line x1="366.25" y1="542" x2="366.25" y2="609.25" stroke="#111" stroke-width="0.9"/>
<line x1="364.05" y1="608.75" x2="366.25" y2="608.75" stroke="#111" stroke-width="0.8"/>
<text x="363.05" y="611.13" font-size="6.6" text-anchor="end" fill="#111">0</text>
<line x1="364.05" y1="597.71" x2="366.25" y2="597.71" stroke="#111" stroke-width="0.8"/>
<text x="363.05" y="600.08" font-size="6.6" text-anchor="end" fill="#111">100</text>
<line x1="364.05" y1="586.67" x2="366.25" y2="586.67" stroke="#111" stroke-width="0.8"/>
<text x="363.05" y="589.04" font-size="6.6" text-anchor="end" fill="#111">200</text>
<line x1="364.05" y1="575.62" x2="366.25" y2="575.62" stroke="#111" stroke-width="0.8"/>
<text x="363.05" y="578" font-size="6.6" text-anchor="end" fill="#111">300</text>
<line x1="364.05" y1="564.58" x2="366.25" y2="564.58" stroke="#111" stroke-width="0.8"/>
<text x="363.05" y="566.96" font-size="6.6" text-anchor="end" fill="#111">400</text>
<line x1="364.05" y1="553.54" x2="366.25" y2="553.54" stroke="#111" stroke-width="0.8"/>
<text x="363.05" y="555.92" font-size="6.6" text-anchor="end" fill="#111">500</text>
<line x1="364.05" y1="542.5" x2="366.25" y2="542.5" stroke="#111" stroke-width="0.8"/>
<text x="363.05" y="544.88" font-size="6.6" text-anchor="end" fill="#111">600</text>
<line x1="366.25" y1="608.75" x2="440" y2="608.75" stroke="#111" stroke-width="0.9"/>
<line x1="384.62" y1="608.75" x2="384.62" y2="610.75" stroke="#111" stroke-width="0.8"/>
<line x1="403.07" y1="608.75" x2="403.07" y2="610.75" stroke="#111" stroke-width="0.8"/>
<line x1="421.52" y1="608.75" x2="421.52" y2="610.75" stroke="#111" stroke-width="0.8"/>
<line x1="439.97" y1="608.75" x2="439.97" y2="610.75" stroke="#111" stroke-width="0.8"/>
<rect x="371.15" y="557.41" width="8.5" height="51.34" fill="#000"/>
<line x1="375.4" y1="552.44" x2="375.4" y2="557.41" stroke="#111" stroke-width="1.0"/>
<line x1="372" y1="552.54" x2="378.8" y2="552.54" stroke="#111" stroke-width="1.3"/>
<rect x="389.6" y="589.43" width="8.5" height="19.32" fill="#000"/>
<line x1="393.85" y1="587.77" x2="393.85" y2="589.43" stroke="#111" stroke-width="1.0"/>
<line x1="390.45" y1="587.87" x2="397.25" y2="587.87" stroke="#111" stroke-width="1.3"/>
<rect x="408.05" y="607.75" width="8.5" height="1" fill="#000"/>
<rect x="426.5" y="570.66" width="8.5" height="38.09" fill="#000"/>
<line x1="430.75" y1="557.96" x2="430.75" y2="570.66" stroke="#111" stroke-width="1.0"/>
<line x1="427.35" y1="558.06" x2="434.15" y2="558.06" stroke="#111" stroke-width="1.3"/>
<text transform="translate(377.92,613.5) rotate(-90)" font-size="7.0" text-anchor="end" fill="#111">FAQ DR13+</text>
<text transform="translate(396.37,613.5) rotate(-90)" font-size="7.0" text-anchor="end" fill="#111">IZA DR13+</text>
<text transform="translate(414.82,613.5) rotate(-90)" font-size="7.0" text-anchor="end" fill="#111">DR13neg</text>
<text transform="translate(433.27,613.5) rotate(-90)" font-size="7.0" text-anchor="end" fill="#111">DR13 trans</text>
<line x1="125.5" y1="648.25" x2="125.5" y2="716" stroke="#111" stroke-width="0.9"/>
<line x1="123.3" y1="715.5" x2="125.5" y2="715.5" stroke="#111" stroke-width="0.8"/>
<text x="122.3" y="717.88" font-size="6.6" text-anchor="end" fill="#111">0</text>
<line x1="123.3" y1="702.15" x2="125.5" y2="702.15" stroke="#111" stroke-width="0.8"/>
<text x="122.3" y="704.53" font-size="6.6" text-anchor="end" fill="#111">300</text>
<line x1="123.3" y1="688.8" x2="125.5" y2="688.8" stroke="#111" stroke-width="0.8"/>
<text x="122.3" y="691.18" font-size="6.6" text-anchor="end" fill="#111">600</text>
<line x1="123.3" y1="675.45" x2="125.5" y2="675.45" stroke="#111" stroke-width="0.8"/>
<text x="122.3" y="677.83" font-size="6.6" text-anchor="end" fill="#111">900</text>
<line x1="123.3" y1="662.1" x2="125.5" y2="662.1" stroke="#111" stroke-width="0.8"/>
<text x="122.3" y="664.48" font-size="6.6" text-anchor="end" fill="#111">1200</text>
<line x1="123.3" y1="648.75" x2="125.5" y2="648.75" stroke="#111" stroke-width="0.8"/>
<text x="122.3" y="651.13" font-size="6.6" text-anchor="end" fill="#111">1500</text>
<line x1="125.5" y1="715.5" x2="338" y2="715.5" stroke="#111" stroke-width="0.9"/>
<line x1="132.55" y1="715.5" x2="132.55" y2="717.5" stroke="#111" stroke-width="0.8"/>
<line x1="139.65" y1="715.5" x2="139.65" y2="717.5" stroke="#111" stroke-width="0.8"/>
<line x1="146.75" y1="715.5" x2="146.75" y2="717.5" stroke="#111" stroke-width="0.8"/>
<line x1="153.85" y1="715.5" x2="153.85" y2="717.5" stroke="#111" stroke-width="0.8"/>
<line x1="160.95" y1="715.5" x2="160.95" y2="717.5" stroke="#111" stroke-width="0.8"/>
<line x1="168.05" y1="715.5" x2="168.05" y2="717.5" stroke="#111" stroke-width="0.8"/>
<line x1="175.15" y1="715.5" x2="175.15" y2="717.5" stroke="#111" stroke-width="0.8"/>
<line x1="182.25" y1="715.5" x2="182.25" y2="717.5" stroke="#111" stroke-width="0.8"/>
<line x1="189.35" y1="715.5" x2="189.35" y2="717.5" stroke="#111" stroke-width="0.8"/>
<line x1="196.45" y1="715.5" x2="196.45" y2="717.5" stroke="#111" stroke-width="0.8"/>
<line x1="203.55" y1="715.5" x2="203.55" y2="717.5" stroke="#111" stroke-width="0.8"/>
<line x1="210.65" y1="715.5" x2="210.65" y2="717.5" stroke="#111" stroke-width="0.8"/>
<line x1="217.75" y1="715.5" x2="217.75" y2="717.5" stroke="#111" stroke-width="0.8"/>
<line x1="224.85" y1="715.5" x2="224.85" y2="717.5" stroke="#111" stroke-width="0.8"/>
<line x1="231.95" y1="715.5" x2="231.95" y2="717.5" stroke="#111" stroke-width="0.8"/>
<line x1="239.05" y1="715.5" x2="239.05" y2="717.5" stroke="#111" stroke-width="0.8"/>
<line x1="246.15" y1="715.5" x2="246.15" y2="717.5" stroke="#111" stroke-width="0.8"/>
<line x1="253.25" y1="715.5" x2="253.25" y2="717.5" stroke="#111" stroke-width="0.8"/>
<line x1="260.35" y1="715.5" x2="260.35" y2="717.5" stroke="#111" stroke-width="0.8"/>
<line x1="267.45" y1="715.5" x2="267.45" y2="717.5" stroke="#111" stroke-width="0.8"/>
<line x1="274.55" y1="715.5" x2="274.55" y2="717.5" stroke="#111" stroke-width="0.8"/>
<line x1="281.65" y1="715.5" x2="281.65" y2="717.5" stroke="#111" stroke-width="0.8"/>
<line x1="288.75" y1="715.5" x2="288.75" y2="717.5" stroke="#111" stroke-width="0.8"/>
<line x1="295.85" y1="715.5" x2="295.85" y2="717.5" stroke="#111" stroke-width="0.8"/>
<line x1="302.95" y1="715.5" x2="302.95" y2="717.5" stroke="#111" stroke-width="0.8"/>
<line x1="310.05" y1="715.5" x2="310.05" y2="717.5" stroke="#111" stroke-width="0.8"/>
<line x1="317.15" y1="715.5" x2="317.15" y2="717.5" stroke="#111" stroke-width="0.8"/>
<line x1="324.25" y1="715.5" x2="324.25" y2="717.5" stroke="#111" stroke-width="0.8"/>
<line x1="331.35" y1="715.5" x2="331.35" y2="717.5" stroke="#111" stroke-width="0.8"/>
<line x1="338.45" y1="715.5" x2="338.45" y2="717.5" stroke="#111" stroke-width="0.8"/>
<rect x="127" y="714.5" width="4" height="1" fill="#000"/>
<rect x="134.1" y="713.72" width="4" height="1.78" fill="#000"/>
<rect x="141.2" y="714.5" width="4" height="1" fill="#000"/>
<rect x="148.3" y="687.02" width="4" height="28.48" fill="#000"/>
<rect x="155.4" y="714.5" width="4" height="1" fill="#000"/>
<rect x="162.5" y="714.5" width="4" height="1" fill="#000"/>
<rect x="169.6" y="698.77" width="4" height="16.73" fill="#000"/>
<rect x="176.7" y="691.25" width="4" height="24.25" fill="#000"/>
<rect x="183.8" y="696.28" width="4" height="19.22" fill="#000"/>
<line x1="185.8" y1="695.48" x2="185.8" y2="696.28" stroke="#111" stroke-width="1.0"/>
<line x1="184.2" y1="695.58" x2="187.4" y2="695.58" stroke="#111" stroke-width="1.3"/>
<rect x="190.9" y="714.16" width="4" height="1.33" fill="#000"/>
<rect x="198" y="712.83" width="4" height="2.67" fill="#000"/>
<rect x="205.1" y="714.5" width="4" height="1" fill="#000"/>
<rect x="212.2" y="710.61" width="4" height="4.89" fill="#000"/>
<rect x="219.3" y="713.72" width="4" height="1.78" fill="#000"/>
<rect x="226.4" y="714.5" width="4" height="1" fill="#000"/>
<rect x="233.5" y="714.5" width="4" height="1" fill="#000"/>
<rect x="240.6" y="711.5" width="4" height="4" fill="#000"/>
<rect x="247.7" y="698.01" width="4" height="17.49" fill="#000"/>
<rect x="254.8" y="714.5" width="4" height="1" fill="#000"/>
<rect x="261.9" y="714.5" width="4" height="1" fill="#000"/>
<rect x="269" y="693.25" width="4" height="22.25" fill="#000"/>
<rect x="276.1" y="714.5" width="4" height="1" fill="#000"/>
<rect x="283.2" y="714.5" width="4" height="1" fill="#000"/>
<rect x="290.3" y="710.52" width="4" height="4.98" fill="#000"/>
<rect x="297.4" y="714.5" width="4" height="1" fill="#000"/>
<rect x="304.5" y="709.98" width="4" height="5.52" fill="#000"/>
<rect x="311.6" y="700.5" width="4" height="15" fill="#000"/>
<line x1="313.6" y1="693.74" x2="313.6" y2="700.5" stroke="#111" stroke-width="1.0"/>
<line x1="312" y1="693.84" x2="315.2" y2="693.84" stroke="#111" stroke-width="1.3"/>
<rect x="318.7" y="697.52" width="4" height="17.98" fill="#000"/>
<line x1="320.7" y1="689.25" x2="320.7" y2="697.52" stroke="#111" stroke-width="1.0"/>
<line x1="319.1" y1="689.35" x2="322.3" y2="689.35" stroke="#111" stroke-width="1.3"/>
<rect x="325.8" y="711.5" width="4" height="4" fill="#000"/>
<rect x="332.9" y="663.75" width="4" height="51.75" fill="#000"/>
<text transform="translate(131.52,720.6) rotate(-90)" font-size="7.0" text-anchor="end" fill="#111">CEL</text>
<text transform="translate(138.62,720.6) rotate(-90)" font-size="7.0" text-anchor="end" fill="#111">AAS</text>
<text transform="translate(145.72,720.6) rotate(-90)" font-size="7.0" text-anchor="end" fill="#111">ABV</text>
<text transform="translate(152.82,720.6) rotate(-90)" font-size="7.0" text-anchor="end" fill="#111">AHT</text>
<text transform="translate(159.92,720.6) rotate(-90)" font-size="7.0" text-anchor="end" fill="#111">CVV</text>
<text transform="translate(167.02,720.6) rotate(-90)" font-size="7.0" text-anchor="end" fill="#111">EIR</text>
<text transform="translate(174.12,720.6) rotate(-90)" font-size="7.0" text-anchor="end" fill="#111">FAQ</text>
<text transform="translate(181.22,720.6) rotate(-90)" font-size="7.0" text-anchor="end" fill="#111">FRQ</text>
<text transform="translate(188.32,720.6) rotate(-90)" font-size="7.0" text-anchor="end" fill="#111">GGT</text>
<text transform="translate(195.42,720.6) rotate(-90)" font-size="7.0" text-anchor="end" fill="#111">JLX</text>
<text transform="translate(202.52,720.6) rotate(-90)" font-size="7.0" text-anchor="end" fill="#111">LAJ</text>
<text transform="translate(209.62,720.6) rotate(-90)" font-size="7.0" text-anchor="end" fill="#111">LMB</text>
<text transform="translate(216.72,720.6) rotate(-90)" font-size="7.0" text-anchor="end" fill="#111">MBX</text>
<text transform="translate(223.82,720.6) rotate(-90)" font-size="7.0" text-anchor="end" fill="#111">NGI</text>
<text transform="translate(230.92,720.6) rotate(-90)" font-size="7.0" text-anchor="end" fill="#111">RSW</text>
<text transform="translate(238.02,720.6) rotate(-90)" font-size="7.0" text-anchor="end" fill="#111">ZIL</text>
<text transform="translate(245.12,720.6) rotate(-90)" font-size="7.0" text-anchor="end" fill="#111">ESK</text>
<text transform="translate(252.22,720.6) rotate(-90)" font-size="7.0" text-anchor="end" fill="#111">LSR</text>
<text transform="translate(259.32,720.6) rotate(-90)" font-size="7.0" text-anchor="end" fill="#111">EBM</text>
<text transform="translate(266.42,720.6) rotate(-90)" font-size="7.0" text-anchor="end" fill="#111">PMT</text>
<text transform="translate(273.52,720.6) rotate(-90)" font-size="7.0" text-anchor="end" fill="#111">TSJ</text>
<text transform="translate(280.62,720.6) rotate(-90)" font-size="7.0" text-anchor="end" fill="#111">IZA</text>
<text transform="translate(287.72,720.6) rotate(-90)" font-size="7.0" text-anchor="end" fill="#111">GSL</text>
<text transform="translate(294.82,720.6) rotate(-90)" font-size="7.0" text-anchor="end" fill="#111">JPF</text>
<text transform="translate(301.92,720.6) rotate(-90)" font-size="7.0" text-anchor="end" fill="#111">CSV</text>
<text transform="translate(309.02,720.6) rotate(-90)" font-size="7.0" text-anchor="end" fill="#111">MHX</text>
<text transform="translate(316.12,720.6) rotate(-90)" font-size="7.0" text-anchor="end" fill="#111">OMR</text>
<text transform="translate(323.22,720.6) rotate(-90)" font-size="7.0" text-anchor="end" fill="#111">TIS</text>
<text transform="translate(330.32,720.6) rotate(-90)" font-size="7.0" text-anchor="end" fill="#111">CODI</text>
<text transform="translate(337.42,720.6) rotate(-90)" font-size="7.0" text-anchor="end" fill="#111">pept</text>
<text x="185" y="656.2" font-size="7.15" text-anchor="start" fill="#111">CMV-pp65 / HLA-A2 clone HRN 3</text>
<line x1="364.2" y1="649" x2="364.2" y2="716.25" stroke="#111" stroke-width="0.9"/>
<line x1="362" y1="715.75" x2="364.2" y2="715.75" stroke="#111" stroke-width="0.8"/>
<text x="361" y="718.13" font-size="6.6" text-anchor="end" fill="#111">0</text>
<line x1="362" y1="693.67" x2="364.2" y2="693.67" stroke="#111" stroke-width="0.8"/>
<text x="361" y="696.04" font-size="6.6" text-anchor="end" fill="#111">100</text>
<line x1="362" y1="671.58" x2="364.2" y2="671.58" stroke="#111" stroke-width="0.8"/>
<text x="361" y="673.96" font-size="6.6" text-anchor="end" fill="#111">200</text>
<line x1="362" y1="649.5" x2="364.2" y2="649.5" stroke="#111" stroke-width="0.8"/>
<text x="361" y="651.88" font-size="6.6" text-anchor="end" fill="#111">300</text>
<line x1="364.2" y1="715.75" x2="438.75" y2="715.75" stroke="#111" stroke-width="0.9"/>
<rect x="368" y="695.43" width="6.2" height="20.32" fill="#000"/>
<rect x="386.4" y="661.2" width="6.2" height="54.55" fill="#000"/>
<line x1="389.5" y1="659.22" x2="389.5" y2="661.2" stroke="#111" stroke-width="1.0"/>
<line x1="387.02" y1="659.32" x2="391.98" y2="659.32" stroke="#111" stroke-width="1.3"/>
<rect x="404.8" y="700.73" width="6.2" height="15.02" fill="#000"/>
<line x1="407.9" y1="694.55" x2="407.9" y2="700.73" stroke="#111" stroke-width="1.0"/>
<line x1="405.42" y1="694.65" x2="410.38" y2="694.65" stroke="#111" stroke-width="1.3"/>
<rect x="423.2" y="702.5" width="6.2" height="13.25" fill="#000"/>
<line x1="426.3" y1="701.17" x2="426.3" y2="702.5" stroke="#111" stroke-width="1.0"/>
<line x1="423.82" y1="701.27" x2="428.78" y2="701.27" stroke="#111" stroke-width="1.3"/>
<rect x="374.6" y="714.6" width="5.2" height="1.15" fill="#777" stroke="#000" stroke-width="0.8"/>
<rect x="393" y="715.05" width="5.2" height="0.7" fill="#777" stroke="#000" stroke-width="0.8"/>
<rect x="411.4" y="714.6" width="5.2" height="1.15" fill="#777" stroke="#000" stroke-width="0.8"/>
<rect x="429.8" y="715.05" width="5.2" height="0.7" fill="#777" stroke="#000" stroke-width="0.8"/>
<text x="378.8" y="724.3" font-size="7.0" text-anchor="middle" fill="#111">AHT</text>
<text x="397.5" y="724.3" font-size="7.0" text-anchor="middle" fill="#111">FAQ</text>
<text x="416" y="724.3" font-size="7.0" text-anchor="middle" fill="#111">GGT</text>
<text x="435.2" y="724.3" font-size="7.0" text-anchor="middle" fill="#111">LSR</text>
<rect x="407.6" y="668.1" width="4.5" height="4.6" fill="#000"/>
<rect x="408.0" y="680.2" width="3.8" height="3.8" fill="#d6d6d6" stroke="#000" stroke-width="0.8"/>
<text x="413.6" y="672.6" font-size="7.2" text-anchor="start" fill="#111">no block</text>
<text x="413.6" y="684.8" font-size="7.2" text-anchor="start" fill="#111">class I</text>
<line x1="97.6" y1="620" x2="97.6" y2="695.4" stroke="#111" stroke-width="0.9"/>
<path d="M95.4,622 L97.6,615.2 L99.8,622 Z" fill="#111"/>
<text transform="translate(101.3,747.2) rotate(-90)" font-size="6.9" text-anchor="start" fill="#111">IFN&#947; pg/mL</text>
<text x="108.6" y="752" font-size="6.9" text-anchor="start" fill="#111">EBV-LCL panel</text>
<line x1="179.4" y1="750.1" x2="242" y2="750.1" stroke="#111" stroke-width="0.9"/>
<path d="M241,748 L247.5,750.1 L241,752.2 Z" fill="#111"/>
</svg>
</body></html>
